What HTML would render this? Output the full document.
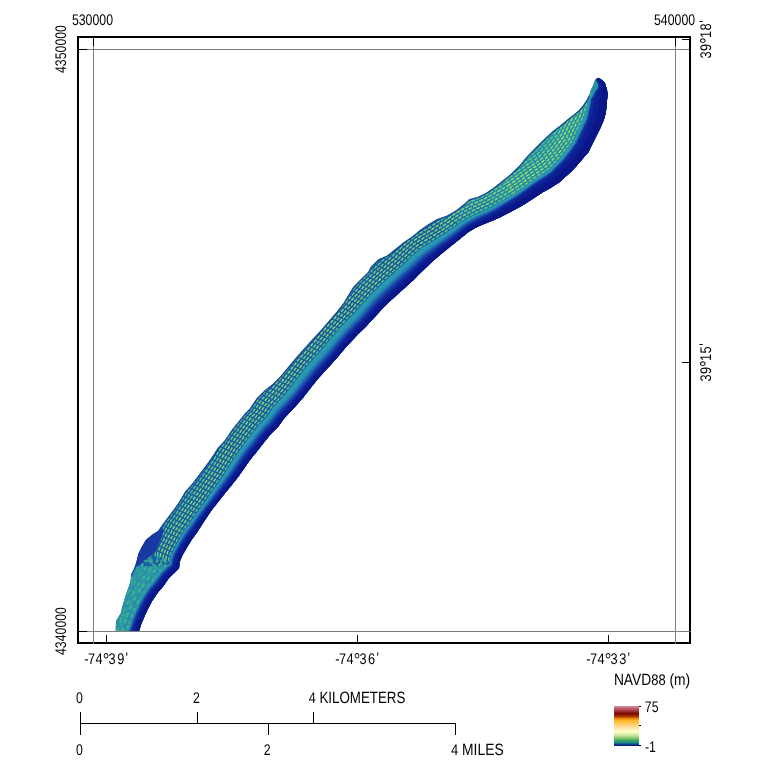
<!DOCTYPE html>
<html lang="en"><head><meta charset="utf-8"><title>Map</title>
<style>html,body{margin:0;padding:0;background:#fff;}svg{display:block;}</style></head>
<body>
<svg width="768" height="768" viewBox="0 0 768 768">
<rect width="768" height="768" fill="#fff"/>
<defs><clipPath id="mapclip"><rect x="79" y="38" width="610" height="593.5"/></clipPath>
<clipPath id="isl"><polygon points="115.6,646.0 115.7,631.0 116.0,621.0 120.7,613.3 123.2,603.3 126.0,594.2 128.2,588.3 130.5,581.0 131.1,574.4 134.3,568.2 136.3,561.9 138.4,553.6 141.5,547.3 145.7,540.0 152.0,534.8 158.2,530.7 162.4,524.4 165.8,520.0 173.3,510.0 179.2,501.7 185.0,491.7 192.5,483.3 200.0,473.3 207.5,463.3 213.3,455.0 217.5,448.3 225.0,440.0 231.7,430.0 238.3,421.7 245.0,413.3 250.0,408.3 256.7,398.3 265.0,390.0 272.5,384.2 280.0,376.7 288.3,366.7 296.7,356.7 305.0,347.5 313.3,338.3 321.7,329.2 330.0,319.5 336.7,311.7 343.3,303.3 348.3,295.0 353.3,286.7 360.0,280.0 368.3,271.7 370.8,266.7 378.3,259.2 386.7,255.8 395.0,249.2 403.3,242.5 411.7,236.7 420.0,230.0 428.3,224.2 436.7,219.2 446.7,215.8 456.7,210.0 465.0,203.3 469.2,199.2 478.3,196.7 486.7,192.5 495.0,186.7 503.3,180.0 511.7,173.3 520.0,165.0 526.7,156.7 533.3,150.0 540.0,143.3 546.7,136.7 553.3,130.8 560.0,125.8 566.7,120.0 573.3,115.0 579.2,110.0 583.3,105.0 586.7,100.0 589.2,95.0 590.8,90.0 593.0,85.6 594.0,82.5 595.0,80.0 597.5,77.8 597.5,77.8 600.5,79.0 603.0,80.9 604.9,83.1 606.1,86.9 607.1,90.6 607.6,95.0 607.2,98.1 606.8,104.0 606.1,110.3 604.9,116.5 603.0,122.1 600.5,127.8 598.0,132.8 595.5,137.8 593.0,142.8 590.5,147.8 588.6,152.0 585.0,155.9 580.6,161.3 576.3,166.3 571.9,170.9 567.5,175.0 563.1,178.8 559.6,182.2 551.3,187.5 543.3,192.0 533.3,198.5 523.3,205.0 513.3,210.5 504.0,215.2 499.8,217.4 493.5,220.2 487.3,222.7 481.0,225.2 474.8,228.3 468.5,232.1 462.3,237.1 455.8,242.3 449.5,247.3 443.3,252.3 437.0,257.6 430.8,262.9 424.5,268.9 418.3,275.1 413.5,280.0 402.4,290.0 391.3,300.0 383.0,308.0 375.0,316.7 365.8,326.7 358.0,334.2 353.3,339.2 345.0,348.3 336.7,358.3 327.5,368.3 318.4,378.3 310.4,388.3 302.6,398.3 293.8,408.3 284.2,418.3 278.3,426.5 270.0,435.0 263.3,443.3 256.7,451.7 250.0,460.0 244.2,468.3 238.3,476.7 231.7,485.0 225.0,493.3 218.3,501.7 211.7,510.0 205.0,520.0 202.0,524.4 196.8,532.8 191.5,540.0 186.3,548.4 182.2,555.7 179.6,561.9 179.0,568.2 173.8,573.4 168.6,578.6 163.4,585.9 157.3,593.3 152.3,600.8 148.2,608.3 144.8,615.8 141.5,623.3 139.0,631.0 134.2,646.0"/></clipPath>
<linearGradient id="cb" x1="0" y1="0" x2="0" y2="1"><stop offset="0" stop-color="#d88ea8"/><stop offset="0.087" stop-color="#b64e5c"/><stop offset="0.19" stop-color="#7c0802"/><stop offset="0.26" stop-color="#a63600"/><stop offset="0.315" stop-color="#e68a10"/><stop offset="0.36" stop-color="#ffb61e"/><stop offset="0.45" stop-color="#ffc960"/><stop offset="0.53" stop-color="#ffe0a0"/><stop offset="0.64" stop-color="#ffffc8"/><stop offset="0.72" stop-color="#d8eca8"/><stop offset="0.795" stop-color="#8ecb76"/><stop offset="0.86" stop-color="#3fa860"/><stop offset="0.913" stop-color="#1e8e82"/><stop offset="0.96" stop-color="#0e4692"/><stop offset="1" stop-color="#020a6e"/></linearGradient><linearGradient id="ne" x1="0" y1="0" x2="0" y2="1"><stop offset="0" stop-color="#2792a2" stop-opacity="1"/><stop offset="0.7" stop-color="#2792a2" stop-opacity="0.9"/><stop offset="1" stop-color="#2792a2" stop-opacity="0"/></linearGradient></defs>
<g clip-path="url(#mapclip)"><g clip-path="url(#isl)">
<polygon points="115.6,646.0 115.7,631.0 116.0,621.0 120.7,613.3 123.2,603.3 126.0,594.2 128.2,588.3 130.5,581.0 131.1,574.4 134.3,568.2 136.3,561.9 138.4,553.6 141.5,547.3 145.7,540.0 152.0,534.8 158.2,530.7 162.4,524.4 165.8,520.0 173.3,510.0 179.2,501.7 185.0,491.7 192.5,483.3 200.0,473.3 207.5,463.3 213.3,455.0 217.5,448.3 225.0,440.0 231.7,430.0 238.3,421.7 245.0,413.3 250.0,408.3 256.7,398.3 265.0,390.0 272.5,384.2 280.0,376.7 288.3,366.7 296.7,356.7 305.0,347.5 313.3,338.3 321.7,329.2 330.0,319.5 336.7,311.7 343.3,303.3 348.3,295.0 353.3,286.7 360.0,280.0 368.3,271.7 370.8,266.7 378.3,259.2 386.7,255.8 395.0,249.2 403.3,242.5 411.7,236.7 420.0,230.0 428.3,224.2 436.7,219.2 446.7,215.8 456.7,210.0 465.0,203.3 469.2,199.2 478.3,196.7 486.7,192.5 495.0,186.7 503.3,180.0 511.7,173.3 520.0,165.0 526.7,156.7 533.3,150.0 540.0,143.3 546.7,136.7 553.3,130.8 560.0,125.8 566.7,120.0 573.3,115.0 579.2,110.0 583.3,105.0 586.7,100.0 589.2,95.0 590.8,90.0 593.0,85.6 594.0,82.5 595.0,80.0 597.5,77.8 597.5,77.8 600.5,79.0 603.0,80.9 604.9,83.1 606.1,86.9 607.1,90.6 607.6,95.0 607.2,98.1 606.8,104.0 606.1,110.3 604.9,116.5 603.0,122.1 600.5,127.8 598.0,132.8 595.5,137.8 593.0,142.8 590.5,147.8 588.6,152.0 585.0,155.9 580.6,161.3 576.3,166.3 571.9,170.9 567.5,175.0 563.1,178.8 559.6,182.2 551.3,187.5 543.3,192.0 533.3,198.5 523.3,205.0 513.3,210.5 504.0,215.2 499.8,217.4 493.5,220.2 487.3,222.7 481.0,225.2 474.8,228.3 468.5,232.1 462.3,237.1 455.8,242.3 449.5,247.3 443.3,252.3 437.0,257.6 430.8,262.9 424.5,268.9 418.3,275.1 413.5,280.0 402.4,290.0 391.3,300.0 383.0,308.0 375.0,316.7 365.8,326.7 358.0,334.2 353.3,339.2 345.0,348.3 336.7,358.3 327.5,368.3 318.4,378.3 310.4,388.3 302.6,398.3 293.8,408.3 284.2,418.3 278.3,426.5 270.0,435.0 263.3,443.3 256.7,451.7 250.0,460.0 244.2,468.3 238.3,476.7 231.7,485.0 225.0,493.3 218.3,501.7 211.7,510.0 205.0,520.0 202.0,524.4 196.8,532.8 191.5,540.0 186.3,548.4 182.2,555.7 179.6,561.9 179.0,568.2 173.8,573.4 168.6,578.6 163.4,585.9 157.3,593.3 152.3,600.8 148.2,608.3 144.8,615.8 141.5,623.3 139.0,631.0 134.2,646.0" fill="#1b5e9e"/>
<rect x="440" y="70" width="180" height="170" fill="url(#ne)"/>
<rect x="100" y="566" width="100" height="70" fill="#2c93a6"/>
<polyline points="123.0,642.4 123.7,640.1 124.4,637.8 125.2,635.5 125.9,633.2 126.6,630.9 127.4,628.6 128.1,626.2 128.9,623.8 129.7,621.3 130.5,618.9 131.5,616.5 132.5,614.2 133.6,611.8 134.7,609.3 135.7,607.0 136.7,604.7 137.8,602.4 139.1,600.0 140.3,597.7 141.6,595.4 143.1,593.0 144.6,590.8 146.1,588.6 147.6,586.4 149.2,584.4 150.8,582.6 152.3,580.7 154.0,578.8 155.5,576.7 157.0,574.7 158.5,572.6 160.0,570.6 161.9,568.7 163.7,566.9 165.0,565.8 166.3,564.8 167.6,563.8 168.9,562.6 168.9,560.8" fill="none" stroke="#38b094" stroke-width="2.2" stroke-dasharray="2.6 3.9 3.2 4.2 4.3 1.8 1.6 5.3"/>
<polyline points="120.9,641.7 121.6,639.4 122.3,637.2 123.1,634.9 123.8,632.6 124.5,630.3 125.3,628.0 126.1,625.5 126.8,623.0 127.6,620.6 128.5,618.1 129.5,615.7 130.5,613.3 131.6,610.9 132.7,608.4 133.7,606.1 134.7,603.8 135.9,601.4 137.2,599.0 138.4,596.6 139.7,594.2 141.2,591.9 142.7,589.6 144.3,587.3 145.8,585.1 147.4,583.1 149.0,581.2 150.6,579.4 152.2,577.4 153.7,575.3 155.3,573.3 156.8,571.2 158.4,569.2 160.3,567.3 162.1,565.5 163.3,564.5 164.5,563.5 165.7,562.7 167.0,561.6 166.9,559.8" fill="none" stroke="#2a88a8" stroke-width="2.2" stroke-dasharray="2.7 2.6 6.0 3.6 5.3 3.6 4.4 2.2"/>
<polyline points="118.8,641.1 119.5,638.8 120.2,636.5 121.0,634.2 121.7,631.9 122.4,629.6 123.2,627.3 124.0,624.8 124.8,622.3 125.6,619.8 126.4,617.3 127.4,614.9 128.5,612.5 129.5,610.0 130.7,607.5 131.7,605.2 132.8,602.8 133.9,600.4 135.2,597.9 136.5,595.5 137.8,593.1 139.4,590.7 140.9,588.4 142.5,586.1 144.1,583.8 145.7,581.8 147.3,579.9 148.8,578.0 150.5,576.1 152.0,574.0 153.6,571.9 155.1,569.8 156.7,567.8 158.6,565.8 160.5,564.0 161.6,563.1 162.7,562.3 163.8,561.6 165.0,560.5 165.0,558.9" fill="none" stroke="#3cb690" stroke-width="2.2" stroke-dasharray="4.4 5.4 3.9 4.8 4.5 1.8 4.9 4.2"/>
<polyline points="116.7,640.4 117.4,638.1 118.1,635.8 118.9,633.5 119.6,631.2 120.3,628.9 121.1,626.6 121.9,624.1 122.7,621.6 123.5,619.1 124.3,616.5 125.4,614.1 126.4,611.6 127.5,609.2 128.7,606.6 129.7,604.2 130.8,601.8 132.0,599.4 133.3,596.9 134.6,594.5 135.9,592.0 137.5,589.5 139.1,587.1 140.7,584.8 142.3,582.5 143.9,580.5 145.5,578.6 147.1,576.7 148.7,574.7 150.3,572.6 151.8,570.5 153.4,568.4 155.0,566.3 157.0,564.4 158.9,562.5 159.9,561.7 160.9,561.0 161.9,560.4 163.1,559.5 163.0,558.0" fill="none" stroke="#2f9ca2" stroke-width="2.2" stroke-dasharray="2.9 1.6 5.4 3.6 4.7 5.5 4.7 5.6"/>
<polyline points="114.6,639.7 115.3,637.4 116.0,635.1 116.8,632.9 117.5,630.6 118.3,628.3 119.0,625.9 119.8,623.4 120.6,620.8 121.4,618.3 122.3,615.7 123.4,613.3 124.4,610.8 125.5,608.3 126.7,605.7 127.7,603.3 128.8,600.9 130.0,598.4 131.3,595.9 132.7,593.4 134.0,590.9 135.6,588.3 137.3,585.9 138.9,583.5 140.5,581.2 142.2,579.2 143.7,577.3 145.3,575.4 147.0,573.4 148.6,571.2 150.1,569.1 151.7,567.0 153.3,564.9 155.3,562.9 157.2,561.0 158.2,560.3 159.1,559.8 160.0,559.3 161.1,558.5 161.0,557.0" fill="none" stroke="#3ab292" stroke-width="2.2" stroke-dasharray="3.3 5.1 3.5 5.7 5.5 1.9 2.1 2.5"/>
<polyline points="112.5,639.1 113.2,636.8 113.9,634.5 114.7,632.2 115.4,629.9 116.2,627.6 116.9,625.3 117.7,622.7 118.5,620.1 119.4,617.5 120.2,615.0 121.3,612.4 122.4,609.9 123.5,607.4 124.7,604.7 125.7,602.3 126.8,599.9 128.0,597.4 129.4,594.8 130.8,592.3 132.1,589.8 133.8,587.2 135.4,584.7 137.1,582.3 138.7,579.9 140.4,577.9 142.0,575.9 143.6,574.0 145.2,572.0 146.8,569.9 148.4,567.7 150.0,565.6 151.7,563.5 153.7,561.4 155.6,559.5 156.4,558.9 157.2,558.5 158.1,558.2 159.2,557.4 159.0,556.1" fill="none" stroke="#2b8ca8" stroke-width="2.2" stroke-dasharray="5.8 3.5 4.3 2.9 3.8 3.2 3.1 4.1"/>
<polyline points="110.4,638.4 111.1,636.1 111.9,633.8 112.6,631.5 113.3,629.2 114.1,626.9 114.8,624.6 115.6,622.0 116.5,619.4 117.3,616.8 118.2,614.2 119.3,611.6 120.4,609.1 121.5,606.5 122.7,603.8 123.8,601.4 124.9,598.9 126.1,596.4 127.5,593.8 128.8,591.2 130.2,588.7 131.9,586.0 133.6,583.5 135.3,581.0 137.0,578.5 138.6,576.5 140.2,574.6 141.8,572.7 143.5,570.7 145.1,568.5 146.7,566.3 148.3,564.2 150.0,562.0 152.0,560.0 154.0,558.0 154.7,557.5 155.4,557.2 156.2,557.1 157.2,556.4 157.0,555.2" fill="none" stroke="#36ac96" stroke-width="2.2" stroke-dasharray="4.1 5.6 4.6 5.7 5.4 6.0 4.5 2.2"/>
<polyline points="108.3,637.7 109.0,635.4 109.8,633.1 110.5,630.8 111.2,628.5 112.0,626.2 112.7,623.9 113.6,621.3 114.4,618.7 115.2,616.0 116.1,613.4 117.2,610.8 118.3,608.3 119.4,605.6 120.7,602.9 121.8,600.4 122.9,598.0 124.1,595.4 125.5,592.7 126.9,590.1 128.4,587.5 130.1,584.8 131.8,582.3 133.5,579.8 135.2,577.2 136.9,575.2 138.5,573.3 140.1,571.4 141.8,569.4 143.4,567.1 145.0,564.9 146.6,562.7 148.3,560.6 150.4,558.5 152.4,556.6 153.0,556.2 153.6,556.0 154.4,555.9 155.3,555.4 155.0,554.2" fill="none" stroke="#2e98a4" stroke-width="2.2" stroke-dasharray="5.4 5.8 5.6 4.1 4.7 2.5 5.2 4.1"/>
<polyline points="106.2,637.0 106.9,634.8 107.7,632.5 108.4,630.2 109.1,627.9 109.9,625.6 110.6,623.2 111.5,620.6 112.3,617.9 113.2,615.3 114.1,612.6 115.2,610.0 116.3,607.4 117.4,604.8 118.7,602.0 119.8,599.5 120.9,597.0 122.2,594.4 123.6,591.7 125.0,589.1 126.5,586.4 128.2,583.6 129.9,581.1 131.7,578.5 133.4,575.9 135.1,573.9 136.7,572.0 138.3,570.0 140.0,568.0 141.7,565.8 143.3,563.6 145.0,561.3 146.7,559.2 148.8,557.0 150.7,555.1 151.3,554.8 151.8,554.7 152.5,554.8 153.4,554.3 153.0,553.3" fill="none" stroke="#38b094" stroke-width="2.2" stroke-dasharray="2.8 1.8 5.3 6.0 1.9 5.1 3.3 2.2"/>
<polyline points="168.6,560.6 168.7,558.6 169.2,556.7 170.0,554.8 171.0,551.9 172.3,549.1 173.6,546.6 174.8,544.2 176.0,541.9 177.3,539.6 178.6,537.3 179.8,535.0 181.1,532.8 182.4,530.8 183.8,528.8 185.2,526.9 186.6,524.9 187.9,523.0 189.2,521.0 190.5,519.1 191.8,517.1 193.2,515.1 194.7,513.1 196.1,511.1 197.6,509.0 199.0,507.0 200.5,504.9 201.9,502.8 203.4,500.8 204.9,498.7 206.4,496.7 207.8,494.6 209.2,492.7 210.7,490.7 212.1,488.7 213.5,486.8 214.9,484.8 216.3,482.9 217.7,480.9 219.1,478.9 220.4,476.9 221.7,474.9 223.0,473.0 224.3,471.1 225.5,469.2 226.8,467.3 227.9,465.3 229.1,463.3 230.3,461.4 231.6,459.5 233.0,457.4 234.4,455.3 235.7,453.1 237.1,451.0 238.6,449.0 240.2,447.0 241.7,445.0 243.2,443.0 244.6,441.0 246.1,439.1 247.5,437.2 248.9,435.2 250.4,433.3 251.9,431.3 253.5,429.2 255.1,427.1 256.7,425.0 258.4,423.1 260.0,421.3 261.6,419.6 263.2,417.9 264.7,416.4 266.0,414.7 267.4,412.7 268.7,410.7 270.1,408.7 271.6,406.7 273.4,404.7 275.2,402.8 277.0,400.8 278.7,399.0 280.3,397.3 281.8,395.6 283.3,393.8 284.7,392.1 286.1,390.5 287.5,388.8 289.0,387.0 290.4,385.2 291.7,383.4 293.1,381.5 294.5,379.7 295.9,377.7 297.4,375.8 298.9,373.8 300.5,371.8 302.1,369.7 303.6,367.7 305.2,365.7 306.9,363.8 308.6,361.9 310.3,360.0 312.0,358.1 313.6,356.3 315.2,354.5 316.8,352.7 318.3,351.0 319.9,349.3 321.4,347.6 322.9,345.9 324.3,344.1 325.8,342.3 327.3,340.4 328.8,338.5 330.4,336.6 332.0,334.7 333.7,332.8 335.4,330.9 337.1,329.0 338.8,327.0 340.5,325.1 342.2,323.3 344.0,321.4 345.7,319.6 347.4,317.9 349.1,316.2 350.8,314.6 352.4,312.9 353.9,311.2 355.4,309.5 356.9,307.9 358.4,306.1 360.0,304.3 361.6,302.6 363.3,300.7 365.0,298.8 366.7,296.9 368.4,295.0 370.2,293.1 372.0,291.3 373.9,289.4 375.8,287.6 377.6,285.8 379.4,284.1 381.2,282.4 383.0,280.7 384.8,279.0 386.6,277.4 388.4,275.7 390.1,274.1 391.9,272.5 393.6,270.9 395.3,269.4 397.0,267.9 398.7,266.5 400.4,265.0 402.1,263.4 403.7,261.8 405.4,260.2 407.2,258.6 409.0,256.9 410.8,255.1 412.7,253.4 414.7,251.7 416.6,249.9 418.6,248.2 420.7,246.8 422.9,245.4 425.1,244.0 427.3,242.7 429.4,241.4 431.6,240.1 433.7,238.8 435.9,237.6 437.9,236.2 440.0,234.9 442.0,233.5 444.1,232.2 446.1,230.9 448.1,229.5 450.1,228.2 452.1,226.8 454.2,225.3 456.3,223.7 458.4,222.2 460.7,220.6 463.1,219.2 465.6,217.8 468.1,216.4 470.7,215.1 473.0,213.8 475.4,212.5 477.9,211.5 480.2,210.5 482.5,209.5 484.7,208.5 486.8,207.6 488.8,206.6 490.8,205.6 492.8,204.7 494.8,203.6 496.8,202.4 498.8,201.3 500.7,200.2 502.7,199.1 504.8,197.9 506.8,196.7 508.8,195.6 510.7,194.4 512.5,193.3 514.4,192.1" fill="none" stroke="#58c48c" stroke-width="1.4" stroke-dasharray="3.6 1.5"/>
<polyline points="512.5,193.3 514.4,192.1 516.3,190.9 518.1,189.5 520.0,188.2 521.8,186.9 523.7,185.5 525.6,184.1 527.7,182.7 529.7,181.2 531.8,179.7 533.9,178.2 535.9,176.9 538.0,175.6 540.0,174.3 542.1,173.1 543.7,171.9 545.2,170.8 546.8,169.7 548.4,168.5 549.8,167.1 551.1,165.5 552.5,164.1 553.8,162.7 555.4,161.2 557.0,159.5 558.4,158.0 559.7,156.4 561.0,154.8 562.4,153.2 563.6,151.5 565.0,149.8 566.4,147.9 567.7,146.1 568.6,144.7 569.7,143.3 570.9,142.0 571.9,140.5 572.5,138.7 573.2,137.0 573.9,135.5 574.7,133.8 575.8,131.5 576.9,129.3 577.9,127.2 578.9,125.1 579.9,123.1 580.9,121.1 581.8,119.3 582.5,117.4 583.1,115.8 583.7,114.2 584.1,112.6 584.6,111.1 584.8,109.5 585.3,107.9 585.8,106.3 586.2,104.5 586.6,102.3 586.9,100.7 587.2,99.0 588.4,97.5 589.7,96.0 590.4,94.4 591.3,93.4 592.0,92.6" fill="none" stroke="#6ccc86" stroke-width="1.4" stroke-dasharray="3.6 1.5"/>
<polyline points="165.9,559.3 165.9,557.5 166.4,555.7 167.1,553.8 168.2,550.8 169.6,547.8 170.9,545.2 172.1,542.8 173.4,540.3 174.7,538.0 176.0,535.7 177.3,533.4 178.6,531.1 179.9,529.2 181.3,527.2 182.7,525.2 184.1,523.3 185.4,521.3 186.7,519.4 188.0,517.4 189.3,515.5 190.7,513.5 192.2,511.5 193.6,509.4 195.1,507.3 196.6,505.2 198.0,503.2 199.5,501.1 201.0,499.0 202.5,496.9 204.0,494.8 205.5,492.8 206.9,490.8 208.3,488.8 209.7,486.9 211.1,484.9 212.6,482.9 214.0,481.0 215.4,479.0 216.7,477.0 218.1,475.0 219.4,473.1 220.6,471.2 221.9,469.3 223.1,467.4 224.3,465.5 225.5,463.5 226.6,461.6 227.9,459.7 229.1,457.8 230.5,455.6 231.9,453.5 233.3,451.4 234.7,449.2 236.3,447.2 237.8,445.1 239.3,443.1 240.8,441.1 242.3,439.2 243.7,437.2 245.1,435.3 246.6,433.4 248.0,431.4 249.5,429.4 251.2,427.3 252.8,425.2 254.4,423.1 256.1,421.1 257.8,419.3 259.4,417.6 260.9,416.0 262.4,414.4 263.7,412.7 265.1,410.8 266.4,408.8 267.7,406.8 269.3,404.8 271.2,402.7 273.0,400.8 274.8,398.8 276.5,396.9 278.1,395.3 279.6,393.5 281.1,391.8 282.4,390.1 283.8,388.5 285.2,386.8 286.7,385.1 288.0,383.3 289.4,381.5 290.8,379.7 292.1,377.8 293.6,375.9 295.1,373.9 296.6,372.0 298.2,369.9 299.8,367.8 301.3,365.8 303.0,363.8 304.7,361.9 306.4,359.9 308.1,358.0 309.8,356.1 311.4,354.3 313.0,352.5 314.6,350.7 316.1,349.0 317.6,347.3 319.1,345.6 320.6,343.9 322.0,342.1 323.5,340.3 325.0,338.4 326.5,336.6 328.1,334.6 329.8,332.7 331.5,330.8 333.2,328.8 334.9,326.9 336.6,325.0 338.3,323.1 340.1,321.2 341.8,319.3 343.6,317.5 345.3,315.8 347.0,314.1 348.7,312.4 350.3,310.8 351.8,309.1 353.2,307.5 354.7,305.8 356.2,304.1 357.8,302.3 359.4,300.5 361.1,298.6 362.8,296.7 364.5,294.8 366.2,292.9 368.0,291.0 369.9,289.2 371.8,287.3 373.7,285.4 375.5,283.6 377.3,281.9 379.2,280.2 381.0,278.5 382.8,276.8 384.6,275.2 386.4,273.5 388.1,271.9 389.9,270.2 391.6,268.7 393.3,267.2 395.0,265.8 396.7,264.3 398.4,262.8 400.0,261.3 401.6,259.7 403.3,258.1 405.1,256.5 406.9,254.7 408.7,253.0 410.7,251.2 412.6,249.5 414.6,247.7 416.6,246.0 418.7,244.5 420.9,243.1 423.2,241.8 425.4,240.4 427.5,239.1 429.7,237.8 431.8,236.5 434.0,235.2 436.1,233.9 438.1,232.5 440.2,231.2 442.2,229.8 444.2,228.5 446.2,227.2 448.2,225.9 450.2,224.5 452.3,222.9 454.5,221.3 456.7,219.7 459.0,218.1 461.5,216.7 464.0,215.3 466.7,213.8 469.3,212.4 471.7,211.1 474.2,209.8 476.7,208.7 479.0,207.7 481.3,206.7 483.6,205.7 485.6,204.8 487.6,203.9 489.6,202.9 491.5,201.9 493.5,200.9 495.4,199.7 497.4,198.6 499.3,197.5 501.4,196.4 503.4,195.2 505.4,194.1 507.4,192.9 509.2,191.8 511.0,190.7 512.9,189.5" fill="none" stroke="#84dc7a" stroke-width="1.4" stroke-dasharray="3.6 1.5"/>
<polyline points="511.0,190.7 512.9,189.5 514.7,188.3 516.6,187.0 518.4,185.7 520.2,184.4 522.1,183.0 524.0,181.6 526.0,180.1 528.1,178.6 530.2,177.2 532.3,175.7 534.4,174.3 536.4,173.1 538.5,171.8 540.5,170.5 542.1,169.3 543.5,168.3 545.0,167.2 546.6,166.2 548.0,164.7 549.2,163.2 550.5,161.8 551.8,160.5 553.3,159.0 554.9,157.3 556.3,155.8 557.6,154.3 558.9,152.8 560.2,151.2 561.4,149.6 562.7,147.8 564.1,145.9 565.4,144.1 566.3,142.8 567.3,141.5 568.4,140.3 569.4,138.8 569.9,137.1 570.6,135.6 571.2,134.1 572.0,132.5 573.1,130.2 574.2,128.0 575.2,125.8 576.2,123.8 577.2,121.8 578.1,119.8 579.0,118.0 579.8,116.2 580.3,114.7 580.8,113.2 581.2,111.7 581.7,110.3 581.9,108.8 582.4,107.4 582.8,105.8 583.2,104.1 583.6,102.0 583.9,100.4 584.2,98.9 585.4,97.6 586.7,96.2 587.5,94.7 588.3,93.9 589.1,93.5" fill="none" stroke="#9ae270" stroke-width="1.4" stroke-dasharray="3.6 1.5"/>
<polyline points="163.1,558.0 163.2,556.3 163.6,554.6 164.3,552.8 165.5,549.6 166.9,546.5 168.3,543.8 169.5,541.3 170.8,538.8 172.2,536.4 173.5,534.1 174.8,531.7 176.1,529.5 177.5,527.5 178.8,525.5 180.2,523.5 181.6,521.6 182.9,519.7 184.2,517.7 185.4,515.8 186.8,513.8 188.2,511.8 189.7,509.8 191.1,507.8 192.6,505.6 194.1,503.5 195.6,501.4 197.1,499.3 198.6,497.2 200.1,495.1 201.6,493.0 203.2,490.9 204.6,488.9 206.0,487.0 207.4,485.0 208.8,483.0 210.2,481.1 211.6,479.1 213.0,477.1 214.4,475.2 215.7,473.2 217.0,471.2 218.3,469.3 219.5,467.5 220.7,465.6 221.9,463.7 223.1,461.7 224.2,459.8 225.4,457.9 226.7,456.0 228.1,453.9 229.5,451.7 230.9,449.6 232.3,447.4 233.9,445.3 235.4,443.3 237.0,441.3 238.5,439.2 239.9,437.3 241.4,435.4 242.8,433.4 244.2,431.5 245.7,429.6 247.2,427.5 248.9,425.4 250.5,423.2 252.2,421.1 253.9,419.1 255.6,417.3 257.1,415.6 258.7,414.0 260.1,412.5 261.4,410.8 262.7,408.8 264.1,406.9 265.4,404.9 267.0,402.8 268.9,400.8 270.8,398.7 272.6,396.8 274.3,394.9 275.9,393.2 277.4,391.5 278.8,389.8 280.2,388.2 281.5,386.6 283.0,384.9 284.4,383.2 285.7,381.4 287.1,379.6 288.4,377.8 289.8,376.0 291.2,374.0 292.7,372.1 294.2,370.1 295.9,368.0 297.5,365.9 299.1,363.9 300.7,361.8 302.4,359.9 304.1,357.9 305.9,356.0 307.6,354.1 309.2,352.3 310.8,350.5 312.4,348.7 313.9,347.0 315.4,345.3 316.9,343.6 318.4,341.9 319.8,340.2 321.2,338.4 322.7,336.5 324.3,334.6 325.9,332.6 327.5,330.7 329.2,328.8 331.0,326.8 332.7,324.9 334.4,323.0 336.2,321.0 337.9,319.1 339.7,317.2 341.5,315.3 343.2,313.7 344.9,312.0 346.6,310.3 348.1,308.7 349.6,307.1 351.1,305.4 352.5,303.8 354.0,302.1 355.6,300.3 357.2,298.5 358.9,296.6 360.6,294.7 362.4,292.7 364.1,290.8 365.9,288.9 367.8,287.0 369.7,285.1 371.6,283.2 373.5,281.4 375.3,279.7 377.1,278.0 379.0,276.3 380.8,274.6 382.6,272.9 384.4,271.3 386.1,269.7 387.9,268.0 389.6,266.4 391.2,265.0 392.9,263.6 394.6,262.1 396.3,260.6 397.9,259.1 399.5,257.6 401.2,256.0 402.9,254.3 404.8,252.6 406.6,250.8 408.6,249.1 410.6,247.3 412.5,245.5 414.6,243.7 416.7,242.3 419.0,240.9 421.2,239.5 423.4,238.1 425.6,236.8 427.7,235.5 429.9,234.2 432.1,232.9 434.2,231.5 436.2,230.2 438.3,228.8 440.3,227.5 442.4,226.2 444.4,224.9 446.4,223.5 448.3,222.1 450.5,220.5 452.7,218.9 454.9,217.3 457.3,215.6 459.9,214.2 462.4,212.7 465.2,211.2 468.0,209.7 470.4,208.4 472.9,207.1 475.5,206.0 477.8,205.0 480.1,204.0 482.4,203.0 484.4,202.1 486.4,201.1 488.3,200.2 490.3,199.2 492.2,198.2 494.1,197.0 496.1,195.9 498.0,194.8 500.0,193.7 502.0,192.6 504.0,191.4 505.9,190.3 507.7,189.2 509.5,188.1 511.4,187.0" fill="none" stroke="#74d482" stroke-width="1.4" stroke-dasharray="3.6 1.5"/>
<polyline points="509.5,188.1 511.4,187.0 513.2,185.7 515.0,184.4 516.8,183.1 518.5,181.8 520.4,180.5 522.4,179.1 524.4,177.6 526.5,176.1 528.6,174.6 530.7,173.1 532.8,171.8 534.9,170.5 536.9,169.2 539.0,167.9 540.5,166.8 541.9,165.8 543.3,164.8 544.8,163.8 546.1,162.4 547.3,160.9 548.6,159.6 549.8,158.3 551.3,156.8 552.8,155.2 554.2,153.7 555.4,152.2 556.7,150.7 557.9,149.2 559.1,147.6 560.5,145.8 561.9,143.9 563.1,142.2 563.9,141.0 564.8,139.8 565.9,138.6 566.9,137.2 567.4,135.6 567.9,134.1 568.6,132.7 569.3,131.2 570.4,128.9 571.5,126.6 572.6,124.5 573.5,122.5 574.5,120.5 575.4,118.6 576.3,116.8 577.0,115.0 577.5,113.6 578.0,112.2 578.4,110.8 578.8,109.5 579.0,108.2 579.4,106.8 579.9,105.3 580.2,103.8 580.6,101.6 580.9,100.2 581.3,98.8 582.4,97.6 583.7,96.4 584.5,95.0 585.4,94.5 586.3,94.4" fill="none" stroke="#88dc78" stroke-width="1.4" stroke-dasharray="3.6 1.5"/>
<polyline points="160.4,556.8 160.4,555.2 160.8,553.5 161.5,551.8 162.7,548.5 164.2,545.2 165.6,542.3 166.9,539.8 168.2,537.3 169.6,534.9 171.0,532.5 172.3,530.1 173.6,527.8 175.0,525.8 176.3,523.8 177.7,521.9 179.1,519.9 180.4,518.0 181.7,516.1 182.9,514.2 184.2,512.2 185.7,510.2 187.2,508.1 188.6,506.1 190.2,503.9 191.7,501.8 193.2,499.7 194.7,497.5 196.2,495.4 197.7,493.3 199.3,491.1 200.8,489.0 202.2,487.1 203.6,485.1 205.0,483.1 206.5,481.1 207.9,479.2 209.3,477.2 210.7,475.3 212.0,473.3 213.4,471.3 214.7,469.3 215.9,467.5 217.1,465.6 218.3,463.8 219.5,461.9 220.6,460.0 221.8,458.1 223.0,456.2 224.2,454.3 225.6,452.2 227.1,450.0 228.5,447.8 229.9,445.6 231.5,443.5 233.0,441.5 234.6,439.4 236.2,437.4 237.6,435.4 239.0,433.5 240.4,431.6 241.9,429.6 243.3,427.7 244.9,425.6 246.5,423.5 248.2,421.3 249.9,419.1 251.7,417.0 253.4,415.3 254.9,413.6 256.4,412.0 257.8,410.5 259.1,408.9 260.4,406.9 261.8,405.0 263.1,403.0 264.7,400.9 266.6,398.8 268.5,396.7 270.4,394.7 272.1,392.8 273.7,391.2 275.2,389.5 276.6,387.8 277.9,386.2 279.3,384.6 280.7,383.0 282.1,381.3 283.4,379.5 284.7,377.7 286.1,375.9 287.4,374.1 288.9,372.2 290.4,370.2 291.9,368.2 293.5,366.1 295.2,364.0 296.8,361.9 298.4,359.9 300.1,357.9 301.9,355.9 303.6,354.0 305.3,352.1 306.9,350.2 308.6,348.4 310.2,346.6 311.6,345.0 313.1,343.3 314.6,341.6 316.1,340.0 317.5,338.2 319.0,336.4 320.5,334.5 322.0,332.7 323.6,330.7 325.3,328.7 327.0,326.8 328.7,324.8 330.5,322.9 332.2,320.9 334.0,319.0 335.8,317.0 337.5,315.1 339.4,313.2 341.1,311.6 342.7,309.9 344.4,308.2 346.0,306.6 347.4,305.0 348.9,303.4 350.3,301.7 351.8,300.0 353.4,298.3 355.0,296.5 356.7,294.6 358.4,292.6 360.2,290.7 361.9,288.7 363.8,286.8 365.7,284.9 367.6,283.0 369.6,281.0 371.4,279.2 373.3,277.5 375.1,275.8 377.0,274.1 378.8,272.3 380.6,270.7 382.4,269.1 384.1,267.4 385.9,265.8 387.6,264.2 389.2,262.8 390.9,261.4 392.6,260.0 394.2,258.5 395.8,257.0 397.4,255.4 399.1,253.8 400.8,252.2 402.7,250.5 404.5,248.7 406.5,246.9 408.5,245.1 410.5,243.3 412.6,241.5 414.7,240.0 417.0,238.6 419.3,237.2 421.5,235.8 423.7,234.5 425.8,233.2 428.0,231.9 430.2,230.6 432.3,229.2 434.4,227.8 436.4,226.5 438.5,225.2 440.5,223.8 442.5,222.5 444.5,221.2 446.4,219.8 448.7,218.1 450.9,216.5 453.2,214.9 455.6,213.1 458.2,211.6 460.9,210.1 463.7,208.6 466.6,207.1 469.1,205.7 471.7,204.4 474.3,203.2 476.7,202.2 479.0,201.2 481.3,200.2 483.3,199.3 485.2,198.4 487.1,197.5 489.0,196.5 490.9,195.5 492.8,194.3 494.7,193.2 496.6,192.2 498.6,191.1 500.6,189.9 502.6,188.8 504.5,187.6 506.3,186.6 508.0,185.5 509.8,184.4" fill="none" stroke="#88de78" stroke-width="1.4" stroke-dasharray="3.6 1.5"/>
<polyline points="508.0,185.5 509.8,184.4 511.6,183.2 513.4,181.9 515.2,180.6 516.9,179.3 518.8,178.0 520.7,176.6 522.8,175.1 524.9,173.6 527.1,172.1 529.2,170.5 531.2,169.2 533.3,167.9 535.4,166.6 537.4,165.3 538.9,164.3 540.2,163.3 541.5,162.4 542.9,161.4 544.2,160.0 545.4,158.6 546.6,157.3 547.7,156.1 549.2,154.6 550.8,153.0 552.1,151.5 553.3,150.1 554.5,148.6 555.7,147.1 556.9,145.6 558.2,143.9 559.6,142.0 560.8,140.3 561.6,139.1 562.4,138.0 563.4,136.9 564.3,135.6 564.8,134.0 565.3,132.6 565.9,131.4 566.6,129.8 567.7,127.5 568.8,125.3 569.9,123.1 570.8,121.1 571.8,119.2 572.7,117.3 573.5,115.6 574.2,113.8 574.7,112.5 575.2,111.2 575.5,110.0 575.9,108.7 576.1,107.5 576.5,106.2 576.9,104.9 577.2,103.4 577.7,101.3 577.9,99.9 578.3,98.6 579.4,97.6 580.7,96.5 581.5,95.3 582.4,95.1 583.4,95.3" fill="none" stroke="#a2e66e" stroke-width="1.4" stroke-dasharray="3.6 1.5"/>
<polyline points="157.7,555.5 157.6,554.0 158.0,552.4 158.6,550.8 159.9,547.3 161.5,543.9 163.0,540.9 164.3,538.4 165.6,535.8 167.0,533.3 168.4,530.9 169.8,528.4 171.1,526.1 172.5,524.1 173.8,522.1 175.2,520.2 176.7,518.2 177.9,516.3 179.2,514.4 180.4,512.5 181.7,510.6 183.2,508.5 184.7,506.5 186.1,504.4 187.7,502.2 189.2,500.1 190.7,497.9 192.3,495.8 193.8,493.6 195.3,491.5 196.9,489.3 198.5,487.1 199.9,485.2 201.3,483.2 202.7,481.2 204.1,479.3 205.5,477.3 206.9,475.3 208.3,473.4 209.7,471.4 211.0,469.4 212.3,467.5 213.5,465.6 214.7,463.8 215.9,462.0 217.1,460.1 218.2,458.2 219.3,456.3 220.5,454.5 221.8,452.6 223.2,450.4 224.6,448.2 226.1,446.0 227.5,443.8 229.1,441.7 230.7,439.6 232.2,437.6 233.8,435.5 235.3,433.6 236.7,431.6 238.1,429.7 239.5,427.8 241.0,425.8 242.5,423.7 244.2,421.5 246.0,419.3 247.7,417.1 249.4,415.0 251.1,413.2 252.6,411.6 254.1,410.0 255.5,408.6 256.8,407.0 258.1,405.0 259.5,403.0 260.8,401.1 262.4,399.0 264.4,396.8 266.3,394.7 268.2,392.7 269.9,390.8 271.5,389.2 272.9,387.5 274.4,385.7 275.7,384.2 277.0,382.6 278.4,381.0 279.8,379.4 281.1,377.6 282.4,375.8 283.7,374.0 285.1,372.3 286.5,370.3 288.0,368.4 289.6,366.3 291.2,364.2 292.8,362.1 294.5,360.0 296.1,357.9 297.9,355.9 299.7,354.0 301.4,352.0 303.1,350.0 304.7,348.2 306.3,346.4 307.9,344.6 309.4,343.0 310.9,341.3 312.4,339.6 313.8,338.0 315.2,336.3 316.7,334.4 318.2,332.6 319.7,330.7 321.3,328.7 323.0,326.7 324.7,324.8 326.5,322.8 328.3,320.8 330.0,318.9 331.8,316.9 333.6,314.9 335.4,313.0 337.2,311.1 338.9,309.4 340.6,307.8 342.3,306.1 343.8,304.5 345.3,302.9 346.7,301.3 348.1,299.7 349.6,298.0 351.2,296.2 352.8,294.4 354.5,292.5 356.3,290.6 358.0,288.6 359.8,286.6 361.6,284.7 363.6,282.8 365.5,280.8 367.5,278.9 369.4,277.0 371.2,275.3 373.1,273.6 374.9,271.8 376.8,270.1 378.6,268.5 380.3,266.8 382.1,265.2 383.9,263.6 385.6,262.0 387.2,260.6 388.8,259.2 390.5,257.8 392.1,256.3 393.7,254.8 395.3,253.3 397.0,251.7 398.7,250.1 400.6,248.3 402.4,246.5 404.5,244.7 406.5,242.9 408.5,241.1 410.5,239.3 412.8,237.8 415.0,236.4 417.3,234.9 419.6,233.5 421.8,232.2 423.9,230.9 426.1,229.5 428.3,228.3 430.4,226.9 432.5,225.5 434.5,224.1 436.6,222.8 438.6,221.5 440.6,220.2 442.6,218.8 444.5,217.4 446.8,215.8 449.1,214.1 451.4,212.4 453.9,210.7 456.6,209.1 459.3,207.6 462.3,205.9 465.2,204.4 467.8,203.0 470.4,201.6 473.1,200.5 475.5,199.4 477.8,198.4 480.1,197.4 482.1,196.5 483.9,195.7 485.8,194.7 487.7,193.8 489.6,192.8 491.5,191.7 493.4,190.6 495.2,189.5 497.2,188.4 499.2,187.3 501.2,186.1 503.1,185.0 504.8,183.9 506.5,182.9 508.3,181.8" fill="none" stroke="#6ccf84" stroke-width="1.4" stroke-dasharray="3.6 1.5"/>
<polyline points="506.5,182.9 508.3,181.8 510.1,180.6 511.8,179.3 513.6,178.1 515.3,176.8 517.2,175.5 519.1,174.0 521.2,172.6 523.3,171.0 525.5,169.5 527.6,168.0 529.7,166.6 531.8,165.4 533.8,164.1 535.9,162.8 537.3,161.7 538.5,160.9 539.8,159.9 541.1,159.0 542.4,157.7 543.5,156.3 544.6,155.0 545.7,153.9 547.2,152.5 548.7,150.8 550.0,149.4 551.2,148.0 552.3,146.6 553.5,145.1 554.6,143.6 555.9,141.9 557.3,140.0 558.5,138.3 559.2,137.3 560.0,136.2 561.0,135.2 561.8,133.9 562.2,132.5 562.7,131.1 563.2,130.0 563.9,128.5 565.0,126.2 566.1,124.0 567.2,121.8 568.1,119.8 569.1,117.8 570.0,116.0 570.8,114.4 571.5,112.6 572.0,111.4 572.4,110.2 572.6,109.1 573.0,108.0 573.1,106.8 573.5,105.7 573.9,104.4 574.2,103.0 574.7,100.9 574.9,99.7 575.3,98.5 576.4,97.6 577.7,96.7 578.5,95.6 579.5,95.6 580.5,96.2" fill="none" stroke="#84da7a" stroke-width="1.4" stroke-dasharray="3.6 1.5"/>
<polyline points="155.0,554.2 154.9,552.8 155.2,551.4 155.8,549.8 157.1,546.2 158.8,542.6 160.3,539.5 161.7,536.9 163.0,534.3 164.5,531.7 165.9,529.3 167.3,526.8 168.6,524.5 170.0,522.5 171.3,520.5 172.7,518.5 174.2,516.6 175.4,514.7 176.7,512.8 177.9,510.9 179.2,508.9 180.7,506.9 182.2,504.8 183.6,502.8 185.2,500.5 186.7,498.3 188.3,496.2 189.8,494.0 191.4,491.8 193.0,489.6 194.5,487.5 196.1,485.3 197.5,483.3 198.9,481.3 200.4,479.4 201.8,477.4 203.2,475.4 204.6,473.5 206.0,471.5 207.4,469.5 208.7,467.5 210.0,465.6 211.2,463.8 212.4,462.0 213.6,460.2 214.7,458.3 215.8,456.4 216.9,454.6 218.1,452.7 219.3,450.9 220.7,448.7 222.2,446.5 223.7,444.2 225.1,442.0 226.7,439.9 228.3,437.8 229.9,435.7 231.5,433.6 232.9,431.7 234.3,429.8 235.8,427.8 237.2,425.9 238.6,424.0 240.2,421.9 241.9,419.6 243.7,417.4 245.4,415.2 247.2,413.0 248.9,411.2 250.4,409.6 251.9,408.1 253.3,406.6 254.5,405.1 255.8,403.1 257.2,401.1 258.5,399.2 260.1,397.0 262.1,394.8 264.1,392.7 266.0,390.7 267.7,388.8 269.3,387.1 270.7,385.4 272.2,383.7 273.4,382.2 274.7,380.7 276.1,379.1 277.5,377.5 278.7,375.7 280.1,374.0 281.4,372.2 282.7,370.4 284.2,368.4 285.7,366.5 287.2,364.5 288.9,362.3 290.5,360.2 292.2,358.0 293.9,356.0 295.6,354.0 297.4,352.0 299.2,349.9 300.9,348.0 302.5,346.2 304.1,344.4 305.7,342.6 307.2,340.9 308.7,339.3 310.1,337.7 311.6,336.0 313.0,334.3 314.4,332.5 315.9,330.6 317.4,328.8 319.1,326.7 320.8,324.8 322.5,322.8 324.3,320.8 326.0,318.8 327.8,316.8 329.6,314.8 331.4,312.8 333.3,310.9 335.1,309.0 336.8,307.3 338.5,305.7 340.1,304.0 341.7,302.4 343.1,300.8 344.5,299.2 345.9,297.6 347.4,296.0 349.0,294.2 350.6,292.4 352.3,290.5 354.1,288.5 355.9,286.5 357.6,284.5 359.5,282.6 361.5,280.6 363.5,278.7 365.5,276.7 367.3,274.8 369.2,273.1 371.1,271.4 372.9,269.6 374.8,267.9 376.6,266.2 378.3,264.6 380.1,263.0 381.9,261.3 383.5,259.8 385.1,258.4 386.8,257.0 388.4,255.6 390.0,254.2 391.6,252.7 393.2,251.1 394.8,249.6 396.6,247.9 398.4,246.2 400.4,244.4 402.4,242.5 404.4,240.7 406.5,238.9 408.5,237.1 410.8,235.5 413.1,234.1 415.4,232.6 417.7,231.2 419.8,229.9 422.0,228.6 424.2,227.2 426.4,225.9 428.5,224.5 430.6,223.2 432.7,221.8 434.7,220.5 436.7,219.1 438.8,217.8 440.7,216.5 442.7,215.1 445.0,213.4 447.3,211.7 449.7,210.0 452.2,208.2 455.0,206.6 457.8,205.0 460.8,203.3 463.9,201.7 466.5,200.3 469.2,198.9 471.9,197.7 474.3,196.7 476.7,195.7 479.0,194.6 480.9,193.8 482.7,192.9 484.6,192.0 486.5,191.1 488.3,190.1 490.1,189.0 492.0,187.9 493.9,186.8 495.8,185.8 497.8,184.6 499.8,183.5 501.6,182.4 503.3,181.3 505.0,180.3 506.8,179.2" fill="none" stroke="#5cc68a" stroke-width="1.4" stroke-dasharray="3.6 1.5"/>
<polyline points="505.0,180.3 506.8,179.2 508.5,178.0 510.2,176.8 512.0,175.5 513.7,174.3 515.5,172.9 517.5,171.5 519.6,170.0 521.7,168.5 523.9,167.0 526.1,165.4 528.1,164.1 530.2,162.8 532.3,161.5 534.3,160.2 535.7,159.2 536.8,158.4 538.0,157.5 539.3,156.6 540.5,155.3 541.5,154.0 542.7,152.8 543.7,151.7 545.1,150.3 546.6,148.6 547.9,147.3 549.0,145.9 550.1,144.5 551.3,143.1 552.4,141.6 553.7,139.9 555.1,138.0 556.2,136.4 556.8,135.4 557.6,134.5 558.5,133.5 559.3,132.3 559.7,130.9 560.1,129.7 560.6,128.6 561.2,127.2 562.4,124.9 563.5,122.6 564.5,120.5 565.5,118.5 566.4,116.5 567.3,114.7 568.1,113.1 568.7,111.4 569.2,110.3 569.5,109.2 569.8,108.2 570.1,107.2 570.2,106.2 570.6,105.1 571.0,103.9 571.3,102.6 571.7,100.6 571.9,99.5 572.3,98.4 573.4,97.6 574.7,96.8 575.5,95.9 576.6,96.2 577.7,97.1" fill="none" stroke="#74d280" stroke-width="1.4" stroke-dasharray="3.6 1.5"/>
<polyline points="152.3,552.9 152.1,551.7 152.3,550.3 153.0,548.8 154.4,545.0 156.1,541.3 157.7,538.1 159.0,535.4 160.4,532.8 161.9,530.1 163.4,527.7 164.8,525.2 166.2,522.8 167.5,520.8 168.8,518.8 170.2,516.9 171.7,514.9 172.9,513.0 174.2,511.1 175.4,509.3 176.7,507.3 178.2,505.2 179.7,503.2 181.1,501.1 182.7,498.8 184.3,496.6 185.8,494.4 187.4,492.2 189.0,490.0 190.6,487.8 192.2,485.6 193.8,483.4 195.2,481.4 196.6,479.5 198.0,477.5 199.4,475.5 200.9,473.5 202.3,471.6 203.7,469.6 205.0,467.6 206.4,465.7 207.6,463.7 208.8,461.9 210.0,460.1 211.2,458.4 212.3,456.5 213.4,454.7 214.5,452.8 215.6,451.0 216.9,449.1 218.3,447.0 219.8,444.7 221.3,442.5 222.7,440.2 224.3,438.1 225.9,436.0 227.5,433.9 229.1,431.8 230.6,429.8 232.0,427.9 233.4,426.0 234.8,424.0 236.3,422.1 237.9,420.0 239.6,417.7 241.4,415.4 243.2,413.2 245.0,411.0 246.7,409.2 248.1,407.7 249.6,406.1 251.0,404.7 252.2,403.1 253.5,401.2 254.9,399.2 256.2,397.3 257.8,395.1 259.9,392.9 261.8,390.7 263.8,388.6 265.6,386.7 267.1,385.1 268.5,383.4 269.9,381.7 271.2,380.2 272.4,378.7 273.8,377.2 275.2,375.5 276.4,373.8 277.7,372.1 279.0,370.3 280.3,368.5 281.8,366.6 283.3,364.6 284.9,362.6 286.6,360.4 288.2,358.2 289.9,356.1 291.6,354.0 293.4,352.0 295.2,350.0 297.0,347.9 298.7,346.0 300.3,344.2 301.9,342.4 303.5,340.6 305.0,338.9 306.4,337.3 307.9,335.7 309.3,334.0 310.7,332.4 312.1,330.5 313.6,328.7 315.1,326.8 316.8,324.8 318.5,322.8 320.3,320.8 322.0,318.8 323.8,316.8 325.6,314.8 327.5,312.8 329.3,310.8 331.1,308.8 333.0,306.9 334.7,305.2 336.3,303.6 338.0,301.9 339.5,300.4 340.9,298.8 342.3,297.2 343.7,295.6 345.2,294.0 346.8,292.2 348.4,290.4 350.1,288.4 351.9,286.4 353.7,284.4 355.5,282.4 357.3,280.5 359.3,278.5 361.4,276.5 363.4,274.5 365.3,272.6 367.2,270.9 369.0,269.1 370.9,267.4 372.8,265.7 374.6,264.0 376.3,262.4 378.1,260.7 379.9,259.1 381.5,257.6 383.1,256.2 384.7,254.8 386.4,253.4 388.0,252.0 389.5,250.5 391.1,249.0 392.7,247.5 394.5,245.8 396.3,244.1 398.3,242.2 400.3,240.4 402.4,238.5 404.4,236.7 406.5,234.8 408.8,233.3 411.1,231.8 413.4,230.4 415.7,228.9 417.9,227.6 420.1,226.2 422.3,224.9 424.5,223.6 426.6,222.2 428.7,220.8 430.8,219.5 432.8,218.1 434.9,216.8 436.9,215.5 438.9,214.2 440.8,212.8 443.2,211.0 445.5,209.3 447.9,207.6 450.5,205.7 453.4,204.1 456.2,202.5 459.4,200.7 462.5,199.0 465.2,197.6 467.9,196.2 470.7,195.0 473.1,193.9 475.5,192.9 477.8,191.9 479.7,191.0 481.5,190.2 483.3,189.3 485.2,188.4 487.0,187.4 488.8,186.3 490.7,185.2 492.5,184.2 494.4,183.1 496.4,182.0 498.4,180.8 500.2,179.7 501.9,178.7 503.5,177.7 505.2,176.6" fill="none" stroke="#4ab890" stroke-width="1.4" stroke-dasharray="3.6 1.5"/>
<polyline points="503.5,177.7 505.2,176.6 507.0,175.5 508.7,174.2 510.4,173.0 512.0,171.7 513.9,170.4 515.8,169.0 517.9,167.5 520.1,166.0 522.3,164.4 524.5,162.9 526.6,161.5 528.7,160.2 530.7,158.9 532.8,157.6 534.1,156.7 535.1,155.9 536.3,155.1 537.5,154.2 538.6,153.0 539.6,151.7 540.7,150.5 541.7,149.5 543.0,148.1 544.6,146.5 545.8,145.1 546.9,143.8 548.0,142.4 549.1,141.1 550.1,139.6 551.4,138.0 552.8,136.1 553.9,134.5 554.5,133.6 555.2,132.7 556.0,131.8 556.8,130.7 557.1,129.3 557.5,128.2 557.9,127.2 558.5,125.9 559.7,123.5 560.8,121.3 561.8,119.1 562.8,117.2 563.7,115.2 564.6,113.5 565.3,111.9 566.0,110.3 566.4,109.2 566.7,108.2 566.9,107.3 567.2,106.4 567.3,105.5 567.6,104.6 568.0,103.5 568.3,102.3 568.7,100.2 569.0,99.2 569.3,98.2 570.4,97.6 571.7,97.0 572.5,96.3 573.6,96.8 574.8,98.0" fill="none" stroke="#62c688" stroke-width="1.4" stroke-dasharray="3.6 1.5"/>
<polyline points="149.6,551.7 149.3,550.5 149.5,549.2 150.2,547.8 151.6,543.9 153.4,540.0 155.0,536.7 156.4,534.0 157.9,531.3 159.4,528.6 160.8,526.0 162.3,523.5 163.7,521.1 165.0,519.1 166.3,517.1 167.8,515.2 169.2,513.2 170.4,511.3 171.7,509.5 172.9,507.6 174.2,505.7 175.7,503.6 177.2,501.5 178.6,499.4 180.3,497.1 181.8,494.9 183.4,492.7 185.0,490.5 186.6,488.2 188.2,486.0 189.8,483.8 191.4,481.5 192.8,479.6 194.2,477.6 195.7,475.6 197.1,473.6 198.5,471.7 199.9,469.7 201.3,467.8 202.7,465.8 204.0,463.8 205.3,461.9 206.5,460.1 207.6,458.3 208.8,456.6 209.9,454.7 211.0,452.9 212.0,451.0 213.2,449.3 214.4,447.4 215.8,445.2 217.3,443.0 218.8,440.7 220.3,438.4 221.9,436.3 223.5,434.1 225.1,432.0 226.8,429.9 228.2,428.0 229.6,426.0 231.1,424.1 232.5,422.2 233.9,420.2 235.5,418.1 237.3,415.8 239.1,413.5 240.9,411.2 242.7,409.0 244.4,407.2 245.9,405.7 247.4,404.1 248.7,402.7 249.9,401.2 251.2,399.3 252.5,397.3 253.9,395.3 255.5,393.2 257.6,390.9 259.6,388.7 261.6,386.6 263.4,384.7 264.9,383.0 266.3,381.4 267.7,379.7 268.9,378.2 270.2,376.8 271.5,375.2 272.8,373.6 274.1,371.9 275.4,370.2 276.7,368.4 278.0,366.7 279.5,364.7 281.0,362.8 282.5,360.7 284.2,358.5 285.9,356.3 287.6,354.2 289.3,352.1 291.1,350.0 292.9,348.0 294.7,345.9 296.5,344.0 298.1,342.1 299.7,340.3 301.3,338.5 302.8,336.9 304.2,335.3 305.6,333.7 307.1,332.1 308.4,330.4 309.9,328.6 311.4,326.7 312.9,324.9 314.5,322.8 316.2,320.8 318.0,318.8 319.8,316.8 321.6,314.8 323.4,312.7 325.3,310.7 327.1,308.7 329.0,306.7 330.8,304.8 332.5,303.1 334.2,301.5 335.9,299.8 337.4,298.3 338.8,296.7 340.2,295.1 341.5,293.5 343.0,291.9 344.6,290.1 346.2,288.3 347.9,286.4 349.7,284.4 351.5,282.4 353.3,280.3 355.2,278.4 357.2,276.4 359.3,274.4 361.3,272.3 363.2,270.4 365.1,268.7 367.0,266.9 368.9,265.2 370.8,263.4 372.6,261.8 374.3,260.1 376.1,258.5 377.8,256.9 379.5,255.3 381.1,254.0 382.7,252.6 384.3,251.3 385.9,249.8 387.4,248.4 389.0,246.9 390.6,245.3 392.4,243.7 394.2,241.9 396.2,240.1 398.3,238.2 400.3,236.3 402.4,234.5 404.5,232.6 406.8,231.0 409.1,229.6 411.5,228.1 413.8,226.6 416.0,225.3 418.2,223.9 420.4,222.6 422.6,221.3 424.7,219.9 426.9,218.5 428.9,217.1 431.0,215.8 433.0,214.5 435.0,213.1 437.0,211.8 438.9,210.4 441.3,208.7 443.7,206.9 446.1,205.2 448.8,203.2 451.7,201.6 454.7,199.9 457.9,198.1 461.2,196.4 463.9,194.9 466.6,193.5 469.5,192.2 472.0,191.2 474.3,190.1 476.7,189.1 478.6,188.3 480.3,187.4 482.1,186.5 483.9,185.6 485.7,184.6 487.5,183.6 489.4,182.5 491.1,181.5 493.0,180.4 495.1,179.3 497.0,178.2 498.8,177.1 500.4,176.1 502.0,175.1 503.7,174.1" fill="none" stroke="#40ac96" stroke-width="1.4" stroke-dasharray="3.6 1.5"/>
<polyline points="502.0,175.1 503.7,174.1 505.4,172.9 507.1,171.7 508.8,170.4 510.4,169.2 512.2,167.9 514.2,166.5 516.3,165.0 518.5,163.4 520.7,161.9 522.9,160.3 525.0,158.9 527.1,157.7 529.2,156.4 531.2,155.1 532.5,154.1 533.4,153.4 534.5,152.6 535.7,151.8 536.8,150.6 537.7,149.4 538.7,148.2 539.6,147.3 541.0,145.9 542.5,144.3 543.7,143.0 544.7,141.7 545.8,140.4 546.9,139.1 547.9,137.7 549.1,136.0 550.5,134.1 551.6,132.5 552.1,131.7 552.7,130.9 553.6,130.1 554.3,129.1 554.6,127.8 554.9,126.7 555.3,125.8 555.8,124.6 557.0,122.2 558.1,119.9 559.1,117.8 560.1,115.9 561.0,113.9 561.9,112.2 562.6,110.7 563.2,109.1 563.6,108.1 563.9,107.2 564.1,106.4 564.3,105.6 564.4,104.8 564.7,104.0 565.0,103.0 565.3,101.9 565.7,99.9 566.0,99.0 566.3,98.1 567.4,97.6 568.7,97.2 569.5,96.6 570.7,97.3 572.0,98.9" fill="none" stroke="#52ba90" stroke-width="1.4" stroke-dasharray="3.6 1.5"/>
<polyline points="146.8,550.4 146.6,549.3 146.7,548.2 147.3,546.8 148.8,542.8 150.7,538.7 152.4,535.3 153.8,532.5 155.3,529.7 156.8,527.0 158.3,524.4 159.8,521.9 161.2,519.4 162.5,517.4 163.9,515.5 165.3,513.5 166.7,511.6 167.9,509.7 169.2,507.8 170.4,506.0 171.7,504.0 173.2,502.0 174.7,499.9 176.1,497.8 177.8,495.4 179.4,493.2 181.0,490.9 182.6,488.7 184.2,486.4 185.8,484.2 187.4,481.9 189.1,479.7 190.5,477.7 191.9,475.7 193.3,473.7 194.8,471.8 196.2,469.8 197.6,467.8 199.0,465.9 200.3,463.9 201.7,461.9 203.0,460.0 204.1,458.2 205.2,456.5 206.4,454.7 207.5,453.0 208.5,451.1 209.6,449.3 210.8,447.5 211.9,445.7 213.4,443.5 214.9,441.2 216.4,438.9 217.9,436.6 219.5,434.4 221.2,432.3 222.8,430.2 224.4,428.0 225.9,426.1 227.3,424.2 228.7,422.2 230.1,420.3 231.6,418.3 233.2,416.2 235.0,413.9 236.8,411.5 238.6,409.2 240.5,407.0 242.2,405.2 243.7,403.7 245.1,402.1 246.4,400.8 247.6,399.3 248.9,397.3 250.2,395.4 251.6,393.4 253.2,391.2 255.3,388.9 257.4,386.7 259.4,384.6 261.2,382.6 262.6,381.0 264.1,379.4 265.5,377.7 266.7,376.3 267.9,374.8 269.2,373.3 270.5,371.7 271.8,370.0 273.1,368.3 274.3,366.6 275.6,364.8 277.1,362.9 278.6,360.9 280.2,358.8 281.9,356.6 283.6,354.4 285.3,352.2 287.0,350.1 288.8,348.1 290.7,346.0 292.5,343.9 294.3,341.9 295.9,340.1 297.5,338.3 299.1,336.5 300.5,334.9 302.0,333.3 303.4,331.7 304.8,330.1 306.1,328.4 307.6,326.6 309.1,324.8 310.6,322.9 312.3,320.8 314.0,318.8 315.8,316.8 317.6,314.8 319.4,312.7 321.2,310.7 323.1,308.6 325.0,306.6 326.8,304.6 328.7,302.7 330.4,301.0 332.1,299.3 333.7,297.7 335.2,296.2 336.6,294.6 338.0,293.0 339.4,291.5 340.8,289.9 342.4,288.1 344.0,286.3 345.7,284.4 347.5,282.3 349.4,280.3 351.2,278.3 353.1,276.3 355.1,274.3 357.2,272.2 359.3,270.1 361.2,268.2 363.1,266.5 365.0,264.7 366.9,263.0 368.8,261.2 370.6,259.5 372.3,257.9 374.1,256.3 375.8,254.6 377.5,253.1 379.0,251.7 380.6,250.4 382.2,249.1 383.8,247.7 385.3,246.2 386.9,244.7 388.5,243.2 390.2,241.6 392.1,239.8 394.1,237.9 396.2,236.0 398.3,234.1 400.4,232.2 402.5,230.4 404.8,228.8 407.1,227.3 409.5,225.8 411.9,224.3 414.1,223.0 416.3,221.6 418.5,220.3 420.7,219.0 422.9,217.5 425.0,216.1 427.1,214.8 429.1,213.4 431.1,212.1 433.1,210.8 435.1,209.5 437.0,208.1 439.5,206.3 441.9,204.5 444.4,202.7 447.1,200.8 450.1,199.0 453.1,197.3 456.4,195.5 459.8,193.7 462.6,192.2 465.4,190.7 468.3,189.5 470.8,188.4 473.2,187.4 475.5,186.3 477.4,185.5 479.1,184.7 480.9,183.8 482.6,182.9 484.4,181.9 486.2,180.9 488.0,179.8 489.7,178.8 491.7,177.8 493.7,176.6 495.6,175.5 497.4,174.5 498.9,173.5 500.5,172.5 502.2,171.5" fill="none" stroke="#3aa49a" stroke-width="1.4" stroke-dasharray="3.6 1.5"/>
<polyline points="500.5,172.5 502.2,171.5 503.9,170.3 505.5,169.1 507.2,167.9 508.8,166.7 510.6,165.4 512.6,164.0 514.7,162.5 516.9,160.9 519.1,159.3 521.4,157.7 523.5,156.4 525.6,155.1 527.6,153.8 529.7,152.5 530.9,151.6 531.7,150.9 532.8,150.2 533.9,149.4 534.9,148.3 535.8,147.1 536.8,146.0 537.6,145.1 538.9,143.7 540.4,142.1 541.6,140.8 542.6,139.6 543.6,138.3 544.7,137.0 545.6,135.7 546.9,134.0 548.2,132.2 549.3,130.6 549.8,129.8 550.3,129.1 551.1,128.4 551.8,127.4 552.0,126.2 552.3,125.2 552.6,124.4 553.1,123.2 554.3,120.9 555.4,118.6 556.5,116.4 557.4,114.5 558.3,112.6 559.1,110.9 559.9,109.4 560.5,107.9 560.8,107.1 561.0,106.2 561.2,105.5 561.4,104.8 561.4,104.1 561.7,103.4 562.1,102.5 562.3,101.5 562.8,99.5 563.0,98.7 563.3,98.0 564.4,97.6 565.7,97.3 566.6,96.9 567.7,97.9 569.1,99.8" fill="none" stroke="#48b094" stroke-width="1.4" stroke-dasharray="3.6 1.5"/>
<polyline points="144.1,549.1 143.8,548.2 143.9,547.1 144.5,545.8 146.1,541.6 148.0,537.4 149.7,533.9 151.2,531.1 152.7,528.2 154.3,525.4 155.8,522.8 157.3,520.2 158.7,517.8 160.0,515.8 161.4,513.8 162.8,511.8 164.2,509.9 165.4,508.0 166.6,506.2 167.8,504.3 169.1,502.4 170.6,500.3 172.1,498.2 173.6,496.1 175.3,493.7 176.9,491.4 178.5,489.2 180.1,486.9 181.8,484.6 183.4,482.4 185.1,480.1 186.7,477.8 188.1,475.8 189.6,473.9 191.0,471.9 192.4,469.9 193.8,467.9 195.3,466.0 196.6,464.0 198.0,462.0 199.3,460.0 200.6,458.1 201.7,456.4 202.9,454.7 204.0,452.9 205.1,451.2 206.1,449.3 207.2,447.5 208.3,445.8 209.5,444.0 211.0,441.7 212.5,439.4 214.0,437.1 215.5,434.8 217.2,432.6 218.8,430.5 220.4,428.3 222.1,426.2 223.5,424.2 224.9,422.3 226.4,420.4 227.8,418.4 229.2,416.5 230.9,414.3 232.7,412.0 234.5,409.6 236.4,407.2 238.3,405.0 240.0,403.2 241.4,401.7 242.9,400.1 244.1,398.8 245.3,397.4 246.6,395.4 247.9,393.5 249.3,391.5 250.9,389.3 253.1,387.0 255.1,384.7 257.1,382.5 259.0,380.6 260.4,379.0 261.9,377.3 263.3,375.7 264.4,374.3 265.6,372.9 266.9,371.4 268.2,369.8 269.5,368.1 270.7,366.4 272.0,364.7 273.3,363.0 274.8,361.0 276.3,359.0 277.8,357.0 279.6,354.7 281.3,352.5 283.0,350.3 284.8,348.2 286.6,346.1 288.4,344.0 290.3,341.9 292.0,339.9 293.7,338.1 295.3,336.3 296.9,334.5 298.3,332.9 299.7,331.3 301.1,329.7 302.5,328.1 303.9,326.5 305.3,324.7 306.8,322.8 308.3,320.9 310.0,318.9 311.7,316.9 313.5,314.8 315.4,312.8 317.2,310.7 319.1,308.6 320.9,306.6 322.8,304.5 324.7,302.5 326.6,300.6 328.3,298.9 329.9,297.2 331.6,295.6 333.1,294.1 334.4,292.5 335.8,291.0 337.2,289.5 338.6,287.9 340.2,286.1 341.8,284.3 343.5,282.3 345.3,280.3 347.2,278.2 349.0,276.2 350.9,274.2 353.0,272.1 355.1,270.0 357.2,268.0 359.1,266.1 361.0,264.3 362.9,262.5 364.9,260.7 366.8,259.0 368.5,257.3 370.3,255.7 372.1,254.1 373.8,252.4 375.5,250.9 377.0,249.5 378.6,248.2 380.2,246.9 381.7,245.5 383.2,244.1 384.8,242.6 386.4,241.1 388.1,239.4 390.0,237.6 392.0,235.8 394.1,233.9 396.2,231.9 398.4,230.0 400.5,228.1 402.8,226.5 405.2,225.0 407.6,223.5 409.9,222.0 412.1,220.7 414.4,219.3 416.6,217.9 418.8,216.6 421.0,215.2 423.1,213.8 425.2,212.4 427.2,211.1 429.3,209.8 431.3,208.4 433.2,207.1 435.2,205.7 437.6,203.9 440.1,202.1 442.6,200.3 445.4,198.3 448.5,196.5 451.5,194.8 455.0,192.8 458.4,191.0 461.3,189.5 464.1,188.0 467.1,186.7 469.6,185.6 472.0,184.6 474.4,183.5 476.2,182.7 477.9,181.9 479.6,181.1 481.4,180.2 483.1,179.2 484.9,178.2 486.7,177.1 488.4,176.2 490.3,175.1 492.3,174.0 494.2,172.9 495.9,171.8 497.5,170.8 499.0,169.9 500.6,168.9" fill="none" stroke="#36a09c" stroke-width="1.4" stroke-dasharray="3.6 1.5"/>
<polyline points="499.0,169.9 500.6,168.9 502.3,167.8 503.9,166.6 505.5,165.4 507.2,164.2 509.0,162.9 510.9,161.5 513.1,159.9 515.3,158.4 517.6,156.8 519.8,155.2 521.9,153.8 524.0,152.5 526.1,151.2 528.1,149.9 529.3,149.1 530.1,148.5 531.0,147.8 532.1,147.0 533.1,145.9 533.9,144.8 534.8,143.7 535.6,142.9 536.9,141.5 538.4,139.9 539.5,138.7 540.5,137.5 541.4,136.3 542.4,135.0 543.4,133.7 544.6,132.0 546.0,130.2 547.0,128.7 547.4,128.0 547.9,127.4 548.6,126.7 549.2,125.8 549.4,124.7 549.7,123.7 549.9,123.0 550.5,121.9 551.6,119.5 552.7,117.2 553.8,115.1 554.7,113.2 555.6,111.3 556.4,109.6 557.1,108.2 557.7,106.7 558.0,106.0 558.2,105.2 558.3,104.6 558.5,104.1 558.5,103.5 558.8,102.9 559.1,102.1 559.4,101.1 559.8,99.2 560.0,98.5 560.3,97.8 561.4,97.6 562.7,97.5 563.6,97.2 564.8,98.5 566.2,100.7" fill="none" stroke="#40a898" stroke-width="1.4" stroke-dasharray="3.6 1.5"/>
<polyline points="141.4,547.8 141.0,547.0 141.1,546.0 141.7,544.8 143.3,540.5 145.3,536.1 147.1,532.5 148.6,529.6 150.1,526.7 151.7,523.9 153.2,521.2 154.7,518.6 156.2,516.1 157.5,514.1 158.9,512.1 160.3,510.2 161.7,508.2 162.9,506.4 164.1,504.5 165.3,502.7 166.6,500.8 168.1,498.7 169.6,496.6 171.1,494.4 172.9,492.0 174.5,489.7 176.1,487.5 177.7,485.1 179.4,482.8 181.0,480.5 182.7,478.2 184.4,475.9 185.8,474.0 187.2,472.0 188.6,470.0 190.1,468.0 191.5,466.0 192.9,464.1 194.3,462.1 195.6,460.1 197.0,458.2 198.3,456.3 199.4,454.5 200.5,452.8 201.6,451.1 202.7,449.4 203.7,447.6 204.7,445.8 205.9,444.1 207.0,442.3 208.5,440.0 210.0,437.7 211.6,435.4 213.1,433.0 214.8,430.8 216.4,428.6 218.1,426.5 219.7,424.3 221.2,422.4 222.6,420.4 224.0,418.5 225.4,416.6 226.9,414.6 228.5,412.4 230.4,410.0 232.3,407.7 234.1,405.3 236.1,403.0 237.8,401.2 239.2,399.7 240.6,398.2 241.9,396.9 243.0,395.5 244.3,393.5 245.6,391.6 246.9,389.6 248.7,387.4 250.8,385.0 252.9,382.7 254.9,380.5 256.8,378.5 258.2,376.9 259.7,375.3 261.0,373.7 262.2,372.3 263.3,370.9 264.6,369.4 265.9,367.9 267.1,366.2 268.4,364.5 269.6,362.8 270.9,361.1 272.4,359.1 273.9,357.2 275.5,355.1 277.3,352.8 279.0,350.6 280.7,348.4 282.5,346.2 284.3,344.1 286.2,342.0 288.1,339.9 289.8,337.9 291.4,336.1 293.1,334.3 294.7,332.5 296.1,330.9 297.5,329.3 298.9,327.7 300.3,326.2 301.6,324.5 303.0,322.7 304.5,320.9 306.0,319.0 307.7,316.9 309.5,314.9 311.3,312.8 313.1,310.7 315.0,308.7 316.9,306.6 318.7,304.5 320.6,302.4 322.5,300.4 324.5,298.4 326.1,296.8 327.8,295.1 329.5,293.5 330.9,292.0 332.3,290.4 333.6,288.9 335.0,287.4 336.4,285.8 338.0,284.0 339.6,282.2 341.3,280.3 343.2,278.2 345.0,276.1 346.9,274.1 348.8,272.1 350.9,270.0 353.0,267.9 355.1,265.8 357.1,263.9 359.0,262.1 360.9,260.3 362.8,258.5 364.8,256.7 366.5,255.1 368.3,253.5 370.1,251.8 371.8,250.2 373.5,248.7 375.0,247.3 376.5,246.0 378.1,244.7 379.7,243.3 381.2,241.9 382.7,240.5 384.3,238.9 386.0,237.3 387.9,235.5 389.9,233.6 392.0,231.7 394.2,229.7 396.3,227.8 398.5,225.9 400.8,224.3 403.2,222.8 405.6,221.2 408.0,219.7 410.2,218.4 412.4,217.0 414.7,215.6 416.9,214.3 419.1,212.9 421.2,211.5 423.3,210.1 425.3,208.8 427.4,207.4 429.4,206.1 431.4,204.8 433.3,203.4 435.8,201.5 438.3,199.7 440.9,197.9 443.8,195.8 446.8,194.0 450.0,192.2 453.5,190.2 457.1,188.4 460.0,186.8 462.9,185.3 465.9,184.0 468.4,182.9 470.9,181.8 473.2,180.8 475.0,180.0 476.7,179.2 478.4,178.3 480.1,177.5 481.8,176.5 483.5,175.5 485.3,174.5 487.0,173.5 488.9,172.4 490.9,171.3 492.8,170.2 494.5,169.2 496.0,168.2 497.5,167.3 499.1,166.3" fill="none" stroke="#36a09c" stroke-width="1.4" stroke-dasharray="3.6 1.5"/>
<polyline points="497.5,167.3 499.1,166.3 500.8,165.2 502.4,164.0 503.9,162.8 505.5,161.7 507.3,160.4 509.3,159.0 511.4,157.4 513.7,155.8 516.0,154.2 518.3,152.6 520.4,151.2 522.4,150.0 524.5,148.7 526.6,147.4 527.7,146.5 528.4,146.0 529.3,145.3 530.3,144.6 531.2,143.6 532.0,142.4 532.8,141.4 533.5,140.6 534.8,139.3 536.3,137.8 537.4,136.6 538.3,135.4 539.2,134.2 540.2,133.0 541.1,131.7 542.3,130.1 543.7,128.2 544.7,126.7 545.0,126.1 545.5,125.6 546.1,125.0 546.7,124.2 546.9,123.1 547.1,122.3 547.3,121.7 547.8,120.6 548.9,118.2 550.0,115.9 551.1,113.8 552.0,111.9 552.9,110.0 553.7,108.3 554.4,107.0 554.9,105.5 555.2,104.9 555.4,104.2 555.5,103.7 555.6,103.3 555.6,102.8 555.9,102.3 556.1,101.6 556.4,100.8 556.8,98.8 557.0,98.3 557.3,97.7 558.4,97.6 559.7,97.6 560.6,97.5 561.8,99.0 563.4,101.6" fill="none" stroke="#40a898" stroke-width="1.4" stroke-dasharray="3.6 1.5"/>
<polyline points="130.9,576.5 131.2,574.1 132.3,572.0 133.4,569.9 134.5,567.7 135.2,565.4 135.9,563.1 136.6,560.8 137.2,558.4 137.8,556.1 138.4,553.7 139.4,551.6 140.5,549.4 141.5,547.3 142.7,545.2 143.9,543.1 145.1,541.0 146.7,539.2 148.5,537.7 150.4,536.1 152.3,534.6 154.3,533.3 156.3,532.0 158.3,530.6 159.6,528.6 161.0,526.6 162.3,524.6 163.8,522.7 165.2,520.7 166.7,518.8 168.1,516.9 169.6,515.0 171.0,513.0 172.5,511.1 173.9,509.2 175.3,507.2 176.7,505.2 178.1,503.3 179.4,501.3 180.7,499.2 181.9,497.1 183.1,495.0 184.3,492.9 185.7,491.0 187.3,489.2 188.9,487.4 190.5,485.6 192.1,483.8 193.6,481.9 195.0,480.0 196.5,478.0 197.9,476.1 199.3,474.2 200.8,472.2 202.2,470.3 203.7,468.4 205.1,466.5 206.6,464.5 208.0,462.6 209.4,460.6 210.8,458.6 212.1,456.7 213.5,454.7 214.8,452.6 216.1,450.6 217.4,448.5 218.9,446.7 220.5,444.9 222.2,443.1 223.8,441.4 225.3,439.5 226.7,437.5 228.0,435.5 229.4,433.5 230.7,431.5 232.1,429.5 233.6,427.6 235.1,425.8 236.6,423.9 238.1,422.0 239.6,420.1 241.1,418.2 242.6,416.3 244.1,414.4 245.7,412.6 247.4,410.9 249.1,409.2 250.6,407.4 252.0,405.4 253.3,403.4 254.6,401.4 256.0,399.4 257.5,397.5 259.2,395.8 260.9,394.1 262.6,392.4 264.3,390.7 266.1,389.1 268.0,387.6 270.0,386.2 271.9,384.7 273.6,383.1 275.3,381.4 277.0,379.7 278.7,378.0 280.4,376.2 281.9,374.4 283.5,372.5 285.0,370.6 286.6,368.8 288.1,366.9 289.7,365.1 291.2,363.2 292.8,361.4 294.3,359.5 295.9,357.7 297.4,355.9 299.1,354.1 300.7,352.3 302.3,350.5 303.9,348.7 305.5,346.9 307.1,345.1 308.7,343.4 310.4,341.6 312.0,339.8 313.6,338.0 315.2,336.2 316.9,334.4 318.5,332.7 320.1,330.9 321.8,329.1 323.3,327.3 324.9,325.5 326.5,323.6 328.0,321.8 329.6,320.0 331.2,318.1 332.7,316.3 334.3,314.5 335.9,312.7 337.4,310.8 338.9,308.9 340.4,307.0 341.9,305.1 343.4,303.2 344.6,301.1 345.8,299.1 347.1,297.0 348.3,294.9 349.6,292.9 350.8,290.8 352.1,288.7 353.3,286.7 355.0,285.0 356.7,283.3 358.4,281.6 360.1,279.9 361.8,278.2 363.5,276.5 365.2,274.8 367.0,273.0 368.5,271.3 369.6,269.1 370.7,266.9 372.3,265.2 374.0,263.5 375.7,261.8 377.4,260.1 379.4,258.8 381.6,257.9 383.9,256.9 386.1,256.0 388.1,254.7 390.0,253.2 391.9,251.7 393.7,250.2 395.6,248.7 397.5,247.2 399.4,245.7 401.3,244.2 403.1,242.6 405.1,241.3 407.1,239.9 409.1,238.5 411.1,237.1 413.0,235.7 414.8,234.2 416.7,232.7 418.6,231.1 420.5,229.7 422.5,228.3 424.4,226.9 426.4,225.5 428.4,224.1 430.5,222.9 432.5,221.7 434.6,220.4 436.7,219.2 439.0,218.4 441.2,217.7 443.5,216.9 445.8,216.1 448.0,215.1 450.1,213.9 452.1,212.6 454.2,211.4 456.3,210.2 458.2,208.8 460.1,207.3 462.0,205.7 463.9,204.2 465.7,202.6 467.4,201.0 469.1,199.3 471.4,198.6 473.7,198.0 476.1,197.3 478.4,196.7 480.5,195.6 482.7,194.5 484.9,193.4 487.0,192.3 489.0,190.9 490.9,189.5 492.9,188.2 494.9,186.8 496.8,185.3 498.6,183.8 500.5,182.2 502.4,180.7 504.3,179.2 506.2,177.7 508.1,176.2 509.9,174.7 511.8,173.2 513.5,171.5 515.2,169.8 516.9,168.1 518.6,166.4 520.3,164.6 521.8,162.8 523.3,160.9 524.8,159.0 526.4,157.1 528.0,155.4 529.7,153.7 531.4,151.9 533.1,150.2 534.8,148.5 536.5,146.8 538.2,145.1 539.9,143.4 541.6,141.7 543.3,140.0 545.0,138.3 546.8,136.6 548.6,135.0 550.4,133.4 552.2,131.8 554.0,130.3 555.9,128.8 557.9,127.4 559.8,125.9 561.6,124.4 563.5,122.8 565.3,121.2 567.1,119.7 569.0,118.2 571.0,116.8 572.9,115.3 574.7,113.8 576.6,112.2 578.4,110.7 580.1,108.9 581.6,107.1 583.1,105.2 584.5,103.2 585.9,101.2 587.1,99.2 588.2,97.0 589.2,94.8" fill="none" stroke="#1b4a9a" stroke-width="2.6"/>
<polygon points="162.4,527.5 158.2,531.7 152,534.8 145.7,540 141.5,547.3 138.4,553.6 136.3,561.9 134.3,568.2 138.4,565 146.8,558.8 155.1,552.5 159.3,543.2 163.4,532.8" fill="#1838a2"/>
<polygon points="139.9,647.8 140.6,645.5 141.4,643.3 142.1,641.0 142.8,638.7 143.6,636.4 144.3,634.1 145.0,631.9 145.7,629.7 146.4,627.5 147.2,625.3 148.1,623.2 149.1,621.0 150.0,618.9 150.9,616.9 151.9,614.7 152.8,612.6 153.8,610.5 154.9,608.5 156.0,606.5 157.1,604.5 158.3,602.6 159.5,600.8 160.8,598.9 162.0,597.0 163.5,595.2 165.0,593.3 166.6,591.5 168.1,589.7 169.4,587.8 170.8,585.9 172.1,584.0 173.5,582.1 175.1,580.5 176.8,578.9 178.7,576.9 180.7,574.9 182.6,572.8 184.3,570.8 184.7,568.1 185.0,565.5 185.6,563.0 186.6,560.7 187.4,558.8 188.4,556.9 189.4,555.0 190.6,553.1 191.7,551.1 192.9,549.1 194.1,547.2 195.3,545.2 196.6,543.2 198.0,541.3 199.4,539.4 200.8,537.4 202.2,535.4 203.5,533.4 204.8,531.3 206.1,529.2 207.3,527.2 208.7,525.2 210.0,523.3 211.3,521.3 212.6,519.4 213.9,517.4 215.3,515.5 216.6,513.5 218.0,511.7 219.5,509.9 220.9,508.0 222.4,506.2 223.9,504.3 225.4,502.4 226.9,500.6 228.4,498.7 229.9,496.8 231.4,495.0 232.9,493.1 234.4,491.2 235.9,489.3 237.4,487.5 238.9,485.5 240.5,483.6 242.0,481.7 243.5,479.7 244.9,477.7 246.3,475.7 247.7,473.7 249.1,471.7 250.5,469.8 251.8,467.9 253.2,465.9 254.5,464.0 256.0,462.2 257.4,460.3 258.9,458.5 260.4,456.7 261.9,454.8 263.4,452.9 264.9,451.0 266.4,449.1 267.8,447.2 269.3,445.4 270.8,443.6 272.2,441.8 273.7,440.0 275.2,438.2 276.9,436.5 278.6,434.8 280.3,433.0 282.1,431.2 283.6,429.3 285.0,427.4 286.5,425.4 287.9,423.5 289.3,421.6 290.9,420.0 292.5,418.3 294.1,416.6 295.8,414.9 297.5,413.2 299.1,411.4 300.7,409.5 302.3,407.7 304.0,405.8 305.6,404.0 307.2,402.1 308.7,400.2 310.2,398.3 311.7,396.3 313.2,394.4 314.7,392.5 316.2,390.7 317.7,388.8 319.1,387.0 320.6,385.1 322.1,383.3 323.6,381.5 325.2,379.8 326.8,378.0 328.3,376.3 329.9,374.5 331.6,372.8 333.2,371.0 334.8,369.2 336.5,367.4 338.1,365.6 339.8,363.8 341.4,362.0 343.0,360.2 344.5,358.3 346.0,356.4 347.6,354.6 349.1,352.8 350.7,351.0 352.2,349.3 353.8,347.5 355.4,345.8 357.0,344.0 358.6,342.3 360.2,340.6 361.8,338.9 363.5,337.2 365.2,335.6 367.0,333.9 368.7,332.2 370.5,330.5 372.1,328.7 373.8,326.9 375.4,325.1 377.1,323.3 378.7,321.5 380.3,319.8 381.9,318.0 383.5,316.3 385.1,314.5 386.7,312.8 388.4,311.1 390.1,309.5 391.8,307.9 393.4,306.3 395.1,304.6 396.9,303.0 398.7,301.4 400.4,299.9 402.2,298.3 404.0,296.7 405.8,295.0 407.5,293.4 409.3,291.8 411.1,290.2 413.0,288.6 414.8,286.9 416.6,285.3 418.4,283.6 420.1,281.9 421.8,280.1 423.5,278.4 425.2,276.7 426.9,275.0 428.5,273.3 430.2,271.7 431.9,270.1 433.6,268.5 435.3,266.9 437.1,265.4 438.9,263.8 440.7,262.3 442.5,260.8 444.3,259.3 446.2,257.7 448.0,256.2 449.8,254.7 451.7,253.2 453.6,251.7 455.4,250.3 457.3,248.8 459.2,247.3 461.1,245.8 462.9,244.3 464.8,242.8 466.6,241.3 468.4,239.9 470.2,238.4 472.0,237.0 473.9,235.9 475.8,234.7 477.7,233.6 479.6,232.6 481.7,231.6 483.7,230.6 485.8,229.7 488.0,228.9 490.2,228.0 492.4,227.1 494.7,226.2 497.0,225.2 499.2,224.2 501.5,223.2 503.7,222.1 505.9,221.0 508.1,219.9 510.3,218.8 512.4,217.7 514.6,216.6 516.8,215.4 518.9,214.3 521.1,213.1 523.3,211.9 525.4,210.7 527.5,209.4 529.6,208.1 531.7,206.7 533.7,205.4 535.8,204.1 537.8,202.8 539.8,201.5 541.7,200.2 543.7,198.9 545.7,197.6 547.7,196.4 549.8,195.2 551.9,194.0 554.0,192.9 556.1,191.5 558.3,190.1 560.5,188.7 562.6,187.4 564.6,185.7 566.4,184.0 568.3,182.3 570.2,180.6 572.1,178.9 573.9,177.3 575.7,175.6 577.4,173.8 579.2,172.0 580.9,170.1 582.5,168.2 584.1,166.4 585.7,164.5 587.3,162.6 588.9,160.6 590.6,158.6 592.3,156.7 593.9,154.7 595.0,152.4 596.1,150.0 597.3,147.7 598.4,145.4 599.5,143.3 600.5,141.2 601.6,139.0 602.7,136.8 603.8,134.6 604.9,132.4 606.0,130.2 607.0,127.9 608.1,125.5 609.0,123.1 609.8,120.6 610.7,118.1 611.2,115.5 611.7,112.9 612.1,110.4 612.4,107.8 612.7,105.4 612.9,102.8 613.1,100.1 613.3,97.5 613.6,94.8 613.3,92.1 612.9,89.2 612.1,86.2 611.1,83.1 610.0,80.1 608.3,77.9 606.3,76.0 603.9,74.4 601.1,73.0 595.2,80.8 596.5,82.1 597.3,83.9 597.6,86.0 597.3,88.5 595.5,90.6 593.5,92.1 592.9,93.1 592.0,94.3 591.3,96.0 590.0,97.5 588.8,99.1 588.5,100.8 588.2,102.5 587.7,104.7 587.4,106.5 586.9,108.2 586.4,109.8 586.1,111.5 585.6,113.1 585.2,114.7 584.6,116.4 584.0,118.0 583.2,119.9 582.3,121.8 581.3,123.8 580.3,125.8 579.4,127.9 578.3,130.0 577.2,132.3 576.1,134.5 575.3,136.2 574.6,137.8 573.9,139.5 573.2,141.3 572.2,142.9 571.0,144.3 569.9,145.7 568.9,147.1 567.6,148.9 566.2,150.8 564.8,152.6 563.6,154.3 562.2,155.9 560.9,157.5 559.5,159.1 558.1,160.7 556.5,162.4 554.9,163.9 553.5,165.3 552.1,166.8 550.8,168.3 549.3,169.8 547.7,171.0 546.1,172.1 544.6,173.2 542.9,174.4 540.8,175.7 538.8,177.0 536.7,178.3 534.7,179.6 532.6,181.1 530.6,182.5 528.5,184.0 526.5,185.4 524.6,186.9 522.7,188.2 520.8,189.6 519.0,190.9 517.1,192.2 515.2,193.5 513.3,194.7 511.4,195.8 509.5,197.0 507.6,198.1 505.6,199.3 503.5,200.5 501.5,201.6 499.5,202.7 497.5,203.9 495.5,205.0 493.5,206.1 491.5,207.1 489.4,208.1 487.4,209.0 485.3,210.0 483.1,211.0 480.8,212.0 478.5,212.9 476.1,214.0 473.7,215.2 471.4,216.5 468.9,217.8 466.4,219.2 464.0,220.5 461.6,221.9 459.4,223.5 457.3,225.0 455.2,226.5 453.1,228.1 451.1,229.5 449.1,230.8 447.1,232.1 445.1,233.4 443.0,234.8 441.0,236.1 438.9,237.5 436.9,238.8 434.7,240.1 432.6,241.3 430.5,242.6 428.3,243.9 426.1,245.3 423.9,246.6 421.8,248.0 419.6,249.4 417.7,251.1 415.8,252.8 413.9,254.6 411.9,256.3 410.1,258.0 408.3,259.7 406.5,261.4 404.9,263.0 403.2,264.5 401.6,266.1 399.8,267.6 398.1,269.1 396.4,270.6 394.7,272.1 393.0,273.7 391.2,275.3 389.4,276.9 387.7,278.6 385.9,280.2 384.1,281.9 382.3,283.6 380.5,285.3 378.7,287.0 376.9,288.7 375.0,290.6 373.1,292.4 371.3,294.3 369.5,296.1 367.8,298.0 366.2,299.9 364.5,301.8 362.8,303.6 361.2,305.4 359.6,307.2 358.1,308.9 356.6,310.6 355.1,312.3 353.6,314.0 352.0,315.7 350.3,317.3 348.6,319.0 346.9,320.7 345.1,322.5 343.4,324.4 341.7,326.2 340.0,328.1 338.3,330.0 336.6,331.9 334.9,333.8 333.2,335.7 331.6,337.6 330.0,339.6 328.5,341.4 327.0,343.3 325.5,345.1 324.1,346.9 322.6,348.7 321.0,350.4 319.5,352.1 318.0,353.8 316.4,355.6 314.8,357.4 313.2,359.2 311.5,361.1 309.8,363.0 308.1,364.9 306.5,366.8 304.9,368.8 303.3,370.8 301.7,372.8 300.2,374.8 298.7,376.8 297.2,378.7 295.7,380.7 294.4,382.5 293.0,384.4 291.6,386.2 290.2,388.0 288.8,389.8 287.3,391.5 285.9,393.2 284.5,394.9 283.0,396.6 281.5,398.4 279.9,400.1 278.2,401.9 276.4,403.8 274.6,405.8 272.8,407.7 271.3,409.7 269.9,411.7 268.6,413.7 267.2,415.7 265.9,417.4 264.4,419.0 262.8,420.7 261.2,422.4 259.6,424.1 257.9,426.1 256.3,428.2 254.7,430.2 253.1,432.3 251.6,434.3 250.2,436.2 248.7,438.2 247.3,440.1 245.9,442.0 244.5,444.0 242.9,446.0 241.4,448.0 239.9,449.9 238.4,452.0 237.0,454.1 235.7,456.2 234.3,458.3 232.9,460.4 231.6,462.3 230.4,464.3 229.2,466.2 228.0,468.2 226.8,470.2 225.5,472.1 224.2,474.0 223.0,475.9 221.7,477.9 220.3,479.9 218.9,481.9 217.6,483.9 216.1,485.8 214.7,487.8 213.3,489.7 211.9,491.7 210.5,493.7 209.1,495.6 207.6,497.7 206.2,499.7 204.7,501.7 203.2,503.8 201.8,505.8 200.3,507.9 198.9,509.9 197.4,512.0 196.0,514.0 194.6,516.0 193.1,518.0 191.8,520.0 190.5,521.9 189.2,523.9 187.9,525.8 186.5,527.8 185.1,529.7 183.8,531.7 182.4,533.7 181.2,535.9 179.9,538.2 178.6,540.4 177.4,542.7 176.2,545.0 175.0,547.3 173.7,549.8 172.5,552.6 171.5,555.3 170.7,557.3 170.2,559.3 170.0,561.3 170.0,563.2 168.6,564.4 167.2,565.5 165.9,566.6 164.6,567.8 162.8,569.5 160.9,571.4 159.4,573.4 157.9,575.4 156.4,577.5 154.9,579.5 153.3,581.4 151.7,583.3 150.2,585.2 148.6,587.1 147.1,589.3 145.6,591.5 144.1,593.7 142.6,596.0 141.4,598.3 140.1,600.6 138.9,602.9 137.8,605.3 136.8,607.6 135.7,609.9 134.7,612.3 133.6,614.6 132.6,617.0 131.6,619.3 130.8,621.7 130.1,624.2 129.3,626.6 128.5,629.0 127.8,631.3 127.0,633.6 126.3,635.9 125.6,638.2 124.8,640.5 124.1,642.8" fill="#2a9ab0"/>
<polygon points="139.9,647.8 140.6,645.5 141.4,643.3 142.1,641.0 142.8,638.7 143.6,636.4 144.3,634.1 145.0,631.9 145.7,629.7 146.4,627.5 147.2,625.3 148.1,623.2 149.1,621.0 150.0,618.9 150.9,616.9 151.9,614.7 152.8,612.6 153.8,610.5 154.9,608.5 156.0,606.5 157.1,604.5 158.3,602.6 159.5,600.8 160.8,598.9 162.0,597.0 163.5,595.2 165.0,593.3 166.6,591.5 168.1,589.7 169.4,587.8 170.8,585.9 172.1,584.0 173.5,582.1 175.1,580.5 176.8,578.9 178.7,576.9 180.7,574.9 182.6,572.8 184.3,570.8 184.7,568.1 185.0,565.5 185.6,563.0 186.6,560.7 187.4,558.8 188.4,556.9 189.4,555.0 190.6,553.1 191.7,551.1 192.9,549.1 194.1,547.2 195.3,545.2 196.6,543.2 198.0,541.3 199.4,539.4 200.8,537.4 202.2,535.4 203.5,533.4 204.8,531.3 206.1,529.2 207.3,527.2 208.7,525.2 210.0,523.3 211.3,521.3 212.6,519.4 213.9,517.4 215.3,515.5 216.6,513.5 218.0,511.7 219.5,509.9 220.9,508.0 222.4,506.2 223.9,504.3 225.4,502.4 226.9,500.6 228.4,498.7 229.9,496.8 231.4,495.0 232.9,493.1 234.4,491.2 235.9,489.3 237.4,487.5 238.9,485.5 240.5,483.6 242.0,481.7 243.5,479.7 244.9,477.7 246.3,475.7 247.7,473.7 249.1,471.7 250.5,469.8 251.8,467.9 253.2,465.9 254.5,464.0 256.0,462.2 257.4,460.3 258.9,458.5 260.4,456.7 261.9,454.8 263.4,452.9 264.9,451.0 266.4,449.1 267.8,447.2 269.3,445.4 270.8,443.6 272.2,441.8 273.7,440.0 275.2,438.2 276.9,436.5 278.6,434.8 280.3,433.0 282.1,431.2 283.6,429.3 285.0,427.4 286.5,425.4 287.9,423.5 289.3,421.6 290.9,420.0 292.5,418.3 294.1,416.6 295.8,414.9 297.5,413.2 299.1,411.4 300.7,409.5 302.3,407.7 304.0,405.8 305.6,404.0 307.2,402.1 308.7,400.2 310.2,398.3 311.7,396.3 313.2,394.4 314.7,392.5 316.2,390.7 317.7,388.8 319.1,387.0 320.6,385.1 322.1,383.3 323.6,381.5 325.2,379.8 326.8,378.0 328.3,376.3 329.9,374.5 331.6,372.8 333.2,371.0 334.8,369.2 336.5,367.4 338.1,365.6 339.8,363.8 341.4,362.0 343.0,360.2 344.5,358.3 346.0,356.4 347.6,354.6 349.1,352.8 350.7,351.0 352.2,349.3 353.8,347.5 355.4,345.8 357.0,344.0 358.6,342.3 360.2,340.6 361.8,338.9 363.5,337.2 365.2,335.6 367.0,333.9 368.7,332.2 370.5,330.5 372.1,328.7 373.8,326.9 375.4,325.1 377.1,323.3 378.7,321.5 380.3,319.8 381.9,318.0 383.5,316.3 385.1,314.5 386.7,312.8 388.4,311.1 390.1,309.5 391.8,307.9 393.4,306.3 395.1,304.6 396.9,303.0 398.7,301.4 400.4,299.9 402.2,298.3 404.0,296.7 405.8,295.0 407.5,293.4 409.3,291.8 411.1,290.2 413.0,288.6 414.8,286.9 416.6,285.3 418.4,283.6 420.1,281.9 421.8,280.1 423.5,278.4 425.2,276.7 426.9,275.0 428.5,273.3 430.2,271.7 431.9,270.1 433.6,268.5 435.3,266.9 437.1,265.4 438.9,263.8 440.7,262.3 442.5,260.8 444.3,259.3 446.2,257.7 448.0,256.2 449.8,254.7 451.7,253.2 453.6,251.7 455.4,250.3 457.3,248.8 459.2,247.3 461.1,245.8 462.9,244.3 464.8,242.8 466.6,241.3 468.4,239.9 470.2,238.4 472.0,237.0 473.9,235.9 475.8,234.7 477.7,233.6 479.6,232.6 481.7,231.6 483.7,230.6 485.8,229.7 488.0,228.9 490.2,228.0 492.4,227.1 494.7,226.2 497.0,225.2 499.2,224.2 501.5,223.2 503.7,222.1 505.9,221.0 508.1,219.9 510.3,218.8 512.4,217.7 514.6,216.6 516.8,215.4 518.9,214.3 521.1,213.1 523.3,211.9 525.4,210.7 527.5,209.4 529.6,208.1 531.7,206.7 533.7,205.4 535.8,204.1 537.8,202.8 539.8,201.5 541.7,200.2 543.7,198.9 545.7,197.6 547.7,196.4 549.8,195.2 551.9,194.0 554.0,192.9 556.1,191.5 558.3,190.1 560.5,188.7 562.6,187.4 564.6,185.7 566.4,184.0 568.3,182.3 570.2,180.6 572.1,178.9 573.9,177.3 575.7,175.6 577.4,173.8 579.2,172.0 580.9,170.1 582.5,168.2 584.1,166.4 585.7,164.5 587.3,162.6 588.9,160.6 590.6,158.6 592.3,156.7 593.9,154.7 595.0,152.4 596.1,150.0 597.3,147.7 598.4,145.4 599.5,143.3 600.5,141.2 601.6,139.0 602.7,136.8 603.8,134.6 604.9,132.4 606.0,130.2 607.0,127.9 608.1,125.5 609.0,123.1 609.8,120.6 610.7,118.1 611.2,115.5 611.7,112.9 612.1,110.4 612.4,107.8 612.7,105.4 612.9,102.8 613.1,100.1 613.3,97.5 613.6,94.8 613.3,92.1 612.9,89.2 612.1,86.2 611.1,83.1 610.0,80.1 608.3,77.9 606.3,76.0 603.9,74.4 601.1,73.0 595.3,80.7 596.6,81.9 597.4,83.7 597.8,85.9 597.6,88.3 595.9,90.4 594.0,91.9 593.4,93.0 592.6,94.2 591.9,95.9 590.6,97.5 589.5,99.1 589.2,100.9 588.9,102.6 588.5,104.8 588.2,106.6 587.7,108.4 587.2,110.0 587.0,111.7 586.5,113.4 586.1,115.0 585.5,116.7 584.9,118.4 584.2,120.4 583.3,122.2 582.3,124.2 581.3,126.3 580.3,128.4 579.2,130.5 578.2,132.7 577.1,135.0 576.2,136.7 575.5,138.4 574.8,140.1 574.1,141.9 573.0,143.5 571.8,144.9 570.7,146.3 569.7,147.8 568.4,149.6 567.0,151.5 565.6,153.3 564.3,155.0 563.0,156.6 561.6,158.2 560.2,159.8 558.8,161.4 557.2,163.1 555.6,164.7 554.2,166.0 552.8,167.5 551.4,169.1 549.9,170.6 548.3,171.7 546.6,172.9 545.1,174.0 543.4,175.2 541.3,176.5 539.3,177.7 537.2,179.0 535.2,180.3 533.1,181.8 531.1,183.3 529.0,184.7 527.0,186.2 525.0,187.6 523.1,189.0 521.3,190.3 519.4,191.6 517.6,193.0 515.7,194.3 513.8,195.4 511.9,196.6 510.0,197.7 508.0,198.9 506.0,200.1 503.9,201.3 501.9,202.4 499.9,203.5 497.9,204.7 495.9,205.9 493.9,207.0 491.9,208.0 489.8,209.0 487.8,210.0 485.7,210.9 483.5,211.9 481.2,212.9 478.9,213.9 476.5,215.0 474.2,216.2 471.9,217.4 469.4,218.8 467.0,220.1 464.6,221.5 462.3,222.8 460.1,224.4 458.0,226.0 456.0,227.6 453.9,229.1 452.0,230.5 450.0,231.9 448.0,233.2 446.0,234.6 444.0,235.9 442.0,237.3 439.9,238.7 437.9,240.0 435.8,241.3 433.7,242.7 431.6,244.0 429.5,245.3 427.4,246.7 425.2,248.1 423.1,249.5 421.0,251.0 419.1,252.7 417.2,254.4 415.3,256.1 413.4,257.8 411.6,259.5 409.8,261.2 408.0,262.8 406.3,264.5 404.7,266.1 403.0,267.6 401.3,269.2 399.5,270.6 397.8,272.1 396.1,273.6 394.4,275.2 392.6,276.9 390.9,278.5 389.1,280.2 387.3,281.8 385.5,283.5 383.7,285.2 381.9,286.9 380.1,288.5 378.3,290.3 376.5,292.1 374.7,294.0 372.9,295.8 371.1,297.6 369.4,299.5 367.8,301.4 366.1,303.3 364.4,305.1 362.9,306.9 361.3,308.7 359.7,310.5 358.2,312.2 356.7,313.9 355.2,315.6 353.6,317.3 351.9,318.9 350.2,320.6 348.5,322.3 346.7,324.1 345.0,325.9 343.3,327.8 341.6,329.7 340.0,331.6 338.3,333.5 336.6,335.3 334.9,337.2 333.3,339.1 331.8,341.0 330.2,342.9 328.7,344.8 327.3,346.6 325.8,348.4 324.3,350.2 322.7,351.9 321.2,353.6 319.6,355.3 318.0,357.1 316.4,358.9 314.8,360.7 313.2,362.6 311.5,364.5 309.8,366.4 308.2,368.3 306.6,370.2 305.0,372.2 303.5,374.2 301.9,376.2 300.4,378.2 298.9,380.1 297.4,382.0 296.0,383.9 294.6,385.7 293.2,387.6 291.9,389.4 290.4,391.1 288.9,392.9 287.4,394.5 286.0,396.2 284.5,398.0 282.9,399.7 281.3,401.4 279.6,403.3 277.9,405.1 276.1,407.0 274.3,409.0 272.8,411.0 271.4,412.9 270.0,414.9 268.7,416.9 267.3,418.6 265.8,420.2 264.2,421.9 262.6,423.6 260.9,425.3 259.2,427.3 257.6,429.3 256.0,431.3 254.5,433.4 253.0,435.4 251.5,437.3 250.1,439.2 248.6,441.1 247.2,443.1 245.7,445.0 244.2,447.0 242.7,448.9 241.2,450.9 239.7,452.9 238.3,455.0 236.9,457.1 235.5,459.2 234.1,461.3 232.9,463.2 231.6,465.1 230.4,467.1 229.2,469.1 227.9,471.0 226.6,472.9 225.3,474.9 224.0,476.8 222.7,478.7 221.3,480.7 219.9,482.7 218.5,484.6 217.1,486.6 215.7,488.5 214.2,490.5 212.8,492.4 211.4,494.4 210.0,496.3 208.5,498.3 207.0,500.4 205.5,502.4 204.1,504.4 202.6,506.4 201.2,508.5 199.7,510.5 198.2,512.5 196.8,514.5 195.4,516.5 193.9,518.5 192.6,520.5 191.3,522.4 190.0,524.4 188.7,526.3 187.2,528.3 185.8,530.2 184.5,532.2 183.1,534.2 181.8,536.3 180.5,538.6 179.3,540.8 178.0,543.0 176.7,545.3 175.5,547.6 174.3,550.1 173.0,552.8 172.0,555.5 171.1,557.5 170.6,559.5 170.5,561.5 170.4,563.4 169.0,564.7 167.7,565.8 166.3,566.9 165.0,568.1 163.2,569.9 161.3,571.7 159.8,573.7 158.3,575.8 156.8,577.8 155.3,579.8 153.7,581.7 152.1,583.6 150.6,585.5 149.0,587.4 147.5,589.6 146.0,591.8 144.5,593.9 143.1,596.2 141.8,598.5 140.6,600.8 139.4,603.1 138.2,605.5 137.2,607.8 136.2,610.1 135.1,612.5 134.1,614.8 133.1,617.2 132.1,619.5 131.3,621.9 130.5,624.3 129.7,626.7 128.9,629.1 128.2,631.5 127.5,633.7 126.7,636.0 126.0,638.3 125.3,640.6 124.5,642.9" fill="#2a96b2"/>
<polygon points="139.9,647.8 140.6,645.5 141.4,643.3 142.1,641.0 142.8,638.7 143.6,636.4 144.3,634.1 145.0,631.9 145.7,629.7 146.4,627.5 147.2,625.3 148.1,623.2 149.1,621.0 150.0,618.9 150.9,616.9 151.9,614.7 152.8,612.6 153.8,610.5 154.9,608.5 156.0,606.5 157.1,604.5 158.3,602.6 159.5,600.8 160.8,598.9 162.0,597.0 163.5,595.2 165.0,593.3 166.6,591.5 168.1,589.7 169.4,587.8 170.8,585.9 172.1,584.0 173.5,582.1 175.1,580.5 176.8,578.9 178.7,576.9 180.7,574.9 182.6,572.8 184.3,570.8 184.7,568.1 185.0,565.5 185.6,563.0 186.6,560.7 187.4,558.8 188.4,556.9 189.4,555.0 190.6,553.1 191.7,551.1 192.9,549.1 194.1,547.2 195.3,545.2 196.6,543.2 198.0,541.3 199.4,539.4 200.8,537.4 202.2,535.4 203.5,533.4 204.8,531.3 206.1,529.2 207.3,527.2 208.7,525.2 210.0,523.3 211.3,521.3 212.6,519.4 213.9,517.4 215.3,515.5 216.6,513.5 218.0,511.7 219.5,509.9 220.9,508.0 222.4,506.2 223.9,504.3 225.4,502.4 226.9,500.6 228.4,498.7 229.9,496.8 231.4,495.0 232.9,493.1 234.4,491.2 235.9,489.3 237.4,487.5 238.9,485.5 240.5,483.6 242.0,481.7 243.5,479.7 244.9,477.7 246.3,475.7 247.7,473.7 249.1,471.7 250.5,469.8 251.8,467.9 253.2,465.9 254.5,464.0 256.0,462.2 257.4,460.3 258.9,458.5 260.4,456.7 261.9,454.8 263.4,452.9 264.9,451.0 266.4,449.1 267.8,447.2 269.3,445.4 270.8,443.6 272.2,441.8 273.7,440.0 275.2,438.2 276.9,436.5 278.6,434.8 280.3,433.0 282.1,431.2 283.6,429.3 285.0,427.4 286.5,425.4 287.9,423.5 289.3,421.6 290.9,420.0 292.5,418.3 294.1,416.6 295.8,414.9 297.5,413.2 299.1,411.4 300.7,409.5 302.3,407.7 304.0,405.8 305.6,404.0 307.2,402.1 308.7,400.2 310.2,398.3 311.7,396.3 313.2,394.4 314.7,392.5 316.2,390.7 317.7,388.8 319.1,387.0 320.6,385.1 322.1,383.3 323.6,381.5 325.2,379.8 326.8,378.0 328.3,376.3 329.9,374.5 331.6,372.8 333.2,371.0 334.8,369.2 336.5,367.4 338.1,365.6 339.8,363.8 341.4,362.0 343.0,360.2 344.5,358.3 346.0,356.4 347.6,354.6 349.1,352.8 350.7,351.0 352.2,349.3 353.8,347.5 355.4,345.8 357.0,344.0 358.6,342.3 360.2,340.6 361.8,338.9 363.5,337.2 365.2,335.6 367.0,333.9 368.7,332.2 370.5,330.5 372.1,328.7 373.8,326.9 375.4,325.1 377.1,323.3 378.7,321.5 380.3,319.8 381.9,318.0 383.5,316.3 385.1,314.5 386.7,312.8 388.4,311.1 390.1,309.5 391.8,307.9 393.4,306.3 395.1,304.6 396.9,303.0 398.7,301.4 400.4,299.9 402.2,298.3 404.0,296.7 405.8,295.0 407.5,293.4 409.3,291.8 411.1,290.2 413.0,288.6 414.8,286.9 416.6,285.3 418.4,283.6 420.1,281.9 421.8,280.1 423.5,278.4 425.2,276.7 426.9,275.0 428.5,273.3 430.2,271.7 431.9,270.1 433.6,268.5 435.3,266.9 437.1,265.4 438.9,263.8 440.7,262.3 442.5,260.8 444.3,259.3 446.2,257.7 448.0,256.2 449.8,254.7 451.7,253.2 453.6,251.7 455.4,250.3 457.3,248.8 459.2,247.3 461.1,245.8 462.9,244.3 464.8,242.8 466.6,241.3 468.4,239.9 470.2,238.4 472.0,237.0 473.9,235.9 475.8,234.7 477.7,233.6 479.6,232.6 481.7,231.6 483.7,230.6 485.8,229.7 488.0,228.9 490.2,228.0 492.4,227.1 494.7,226.2 497.0,225.2 499.2,224.2 501.5,223.2 503.7,222.1 505.9,221.0 508.1,219.9 510.3,218.8 512.4,217.7 514.6,216.6 516.8,215.4 518.9,214.3 521.1,213.1 523.3,211.9 525.4,210.7 527.5,209.4 529.6,208.1 531.7,206.7 533.7,205.4 535.8,204.1 537.8,202.8 539.8,201.5 541.7,200.2 543.7,198.9 545.7,197.6 547.7,196.4 549.8,195.2 551.9,194.0 554.0,192.9 556.1,191.5 558.3,190.1 560.5,188.7 562.6,187.4 564.6,185.7 566.4,184.0 568.3,182.3 570.2,180.6 572.1,178.9 573.9,177.3 575.7,175.6 577.4,173.8 579.2,172.0 580.9,170.1 582.5,168.2 584.1,166.4 585.7,164.5 587.3,162.6 588.9,160.6 590.6,158.6 592.3,156.7 593.9,154.7 595.0,152.4 596.1,150.0 597.3,147.7 598.4,145.4 599.5,143.3 600.5,141.2 601.6,139.0 602.7,136.8 603.8,134.6 604.9,132.4 606.0,130.2 607.0,127.9 608.1,125.5 609.0,123.1 609.8,120.6 610.7,118.1 611.2,115.5 611.7,112.9 612.1,110.4 612.4,107.8 612.7,105.4 612.9,102.8 613.1,100.1 613.3,97.5 613.6,94.8 613.3,92.1 612.9,89.2 612.1,86.2 611.1,83.1 610.0,80.1 608.3,77.9 606.3,76.0 603.9,74.4 601.1,73.0 595.4,80.6 596.7,81.8 597.5,83.6 598.0,85.7 597.9,88.1 596.3,90.2 594.5,91.8 594.0,92.9 593.2,94.2 592.5,95.9 591.3,97.5 590.2,99.1 589.9,100.9 589.7,102.7 589.3,104.9 589.0,106.8 588.5,108.5 588.1,110.2 587.9,112.0 587.4,113.6 587.0,115.3 586.5,117.1 585.9,118.8 585.1,120.8 584.2,122.7 583.2,124.7 582.2,126.8 581.2,128.8 580.2,131.0 579.1,133.2 578.0,135.4 577.2,137.2 576.4,138.9 575.7,140.6 575.0,142.5 573.9,144.0 572.7,145.5 571.5,147.0 570.5,148.5 569.2,150.3 567.8,152.2 566.4,154.0 565.1,155.7 563.7,157.4 562.4,159.0 561.0,160.6 559.5,162.2 557.9,163.8 556.3,165.4 554.8,166.8 553.4,168.3 552.0,169.8 550.5,171.3 548.8,172.5 547.1,173.6 545.6,174.8 543.8,176.0 541.8,177.2 539.7,178.5 537.7,179.8 535.6,181.1 533.6,182.6 531.5,184.0 529.5,185.5 527.5,186.9 525.5,188.3 523.6,189.7 521.8,191.0 519.9,192.4 518.0,193.7 516.1,195.0 514.2,196.2 512.3,197.3 510.4,198.5 508.4,199.7 506.4,200.9 504.3,202.1 502.3,203.2 500.3,204.4 498.3,205.6 496.3,206.8 494.3,207.9 492.3,208.9 490.3,210.0 488.2,210.9 486.1,211.9 483.9,212.9 481.6,213.9 479.3,214.9 477.0,215.9 474.7,217.1 472.4,218.4 469.9,219.7 467.5,221.1 465.2,222.4 462.9,223.8 460.8,225.4 458.8,227.0 456.8,228.6 454.7,230.2 452.8,231.6 450.9,233.0 448.9,234.4 446.9,235.7 444.9,237.1 442.9,238.5 440.9,239.9 438.9,241.3 436.8,242.6 434.8,244.0 432.7,245.4 430.7,246.7 428.6,248.2 426.5,249.6 424.5,251.0 422.4,252.5 420.5,254.2 418.6,255.9 416.8,257.6 414.9,259.3 413.1,261.0 411.3,262.7 409.5,264.3 407.8,266.0 406.1,267.6 404.5,269.2 402.7,270.7 401.0,272.2 399.2,273.7 397.5,275.2 395.8,276.8 394.0,278.4 392.3,280.1 390.5,281.7 388.8,283.4 387.0,285.1 385.2,286.7 383.4,288.4 381.6,290.1 379.8,291.9 378.0,293.7 376.2,295.5 374.4,297.3 372.7,299.1 371.0,301.0 369.4,302.9 367.7,304.8 366.1,306.6 364.5,308.4 362.9,310.2 361.4,312.0 359.8,313.7 358.3,315.5 356.8,317.2 355.2,318.9 353.5,320.5 351.8,322.2 350.1,323.9 348.4,325.7 346.7,327.5 345.0,329.4 343.3,331.2 341.6,333.1 340.0,335.0 338.3,336.9 336.7,338.7 335.0,340.6 333.5,342.5 332.0,344.4 330.5,346.3 329.0,348.1 327.5,349.9 326.0,351.7 324.4,353.4 322.9,355.1 321.3,356.9 319.7,358.7 318.1,360.5 316.5,362.3 314.9,364.1 313.2,366.0 311.6,367.9 309.9,369.7 308.3,371.7 306.8,373.6 305.2,375.6 303.6,377.6 302.1,379.5 300.6,381.4 299.1,383.3 297.7,385.2 296.3,387.0 294.9,388.9 293.5,390.7 292.0,392.5 290.5,394.2 289.0,395.9 287.5,397.6 286.0,399.4 284.4,401.1 282.8,402.8 281.1,404.6 279.3,406.5 277.6,408.3 275.8,410.2 274.3,412.2 272.9,414.2 271.5,416.1 270.1,418.1 268.7,419.8 267.1,421.4 265.5,423.1 263.9,424.8 262.2,426.5 260.6,428.5 259.0,430.5 257.4,432.5 255.8,434.5 254.3,436.4 252.8,438.4 251.4,440.3 249.9,442.2 248.5,444.1 247.0,446.0 245.5,448.0 244.0,449.9 242.4,451.9 240.9,453.9 239.6,455.9 238.2,458.0 236.8,460.1 235.4,462.1 234.1,464.1 232.8,466.0 231.5,468.0 230.3,469.9 229.0,471.9 227.7,473.8 226.4,475.7 225.0,477.6 223.7,479.5 222.3,481.5 220.9,483.4 219.4,485.4 218.0,487.3 216.6,489.2 215.1,491.2 213.7,493.1 212.3,495.1 210.8,497.0 209.4,499.0 207.9,501.0 206.4,503.0 204.9,505.0 203.5,507.0 202.0,509.0 200.6,511.1 199.1,513.1 197.6,515.1 196.2,517.0 194.7,519.0 193.4,521.0 192.1,522.9 190.7,524.9 189.4,526.8 188.0,528.8 186.5,530.7 185.1,532.7 183.8,534.6 182.5,536.8 181.2,539.0 179.9,541.1 178.6,543.4 177.3,545.6 176.1,547.9 174.8,550.4 173.5,553.0 172.5,555.7 171.6,557.7 171.1,559.7 171.0,561.7 170.9,563.7 169.5,565.0 168.1,566.1 166.8,567.2 165.4,568.5 163.6,570.2 161.7,572.1 160.2,574.1 158.7,576.1 157.2,578.1 155.7,580.1 154.1,582.1 152.6,583.9 151.0,585.8 149.4,587.7 147.9,589.9 146.5,592.1 145.0,594.2 143.5,596.5 142.3,598.8 141.1,601.1 139.8,603.4 138.7,605.7 137.7,608.0 136.6,610.3 135.6,612.7 134.5,615.0 133.5,617.3 132.5,619.7 131.7,622.1 130.9,624.5 130.1,626.9 129.4,629.3 128.6,631.6 127.9,633.9 127.2,636.2 126.4,638.5 125.7,640.8 125.0,643.0" fill="#2480b2"/>
<polygon points="139.9,647.8 140.6,645.5 141.4,643.3 142.1,641.0 142.8,638.7 143.6,636.4 144.3,634.1 145.0,631.9 145.7,629.7 146.4,627.5 147.2,625.3 148.1,623.2 149.1,621.0 150.0,618.9 150.9,616.9 151.9,614.7 152.8,612.6 153.8,610.5 154.9,608.5 156.0,606.5 157.1,604.5 158.3,602.6 159.5,600.8 160.8,598.9 162.0,597.0 163.5,595.2 165.0,593.3 166.6,591.5 168.1,589.7 169.4,587.8 170.8,585.9 172.1,584.0 173.5,582.1 175.1,580.5 176.8,578.9 178.7,576.9 180.7,574.9 182.6,572.8 184.3,570.8 184.7,568.1 185.0,565.5 185.6,563.0 186.6,560.7 187.4,558.8 188.4,556.9 189.4,555.0 190.6,553.1 191.7,551.1 192.9,549.1 194.1,547.2 195.3,545.2 196.6,543.2 198.0,541.3 199.4,539.4 200.8,537.4 202.2,535.4 203.5,533.4 204.8,531.3 206.1,529.2 207.3,527.2 208.7,525.2 210.0,523.3 211.3,521.3 212.6,519.4 213.9,517.4 215.3,515.5 216.6,513.5 218.0,511.7 219.5,509.9 220.9,508.0 222.4,506.2 223.9,504.3 225.4,502.4 226.9,500.6 228.4,498.7 229.9,496.8 231.4,495.0 232.9,493.1 234.4,491.2 235.9,489.3 237.4,487.5 238.9,485.5 240.5,483.6 242.0,481.7 243.5,479.7 244.9,477.7 246.3,475.7 247.7,473.7 249.1,471.7 250.5,469.8 251.8,467.9 253.2,465.9 254.5,464.0 256.0,462.2 257.4,460.3 258.9,458.5 260.4,456.7 261.9,454.8 263.4,452.9 264.9,451.0 266.4,449.1 267.8,447.2 269.3,445.4 270.8,443.6 272.2,441.8 273.7,440.0 275.2,438.2 276.9,436.5 278.6,434.8 280.3,433.0 282.1,431.2 283.6,429.3 285.0,427.4 286.5,425.4 287.9,423.5 289.3,421.6 290.9,420.0 292.5,418.3 294.1,416.6 295.8,414.9 297.5,413.2 299.1,411.4 300.7,409.5 302.3,407.7 304.0,405.8 305.6,404.0 307.2,402.1 308.7,400.2 310.2,398.3 311.7,396.3 313.2,394.4 314.7,392.5 316.2,390.7 317.7,388.8 319.1,387.0 320.6,385.1 322.1,383.3 323.6,381.5 325.2,379.8 326.8,378.0 328.3,376.3 329.9,374.5 331.6,372.8 333.2,371.0 334.8,369.2 336.5,367.4 338.1,365.6 339.8,363.8 341.4,362.0 343.0,360.2 344.5,358.3 346.0,356.4 347.6,354.6 349.1,352.8 350.7,351.0 352.2,349.3 353.8,347.5 355.4,345.8 357.0,344.0 358.6,342.3 360.2,340.6 361.8,338.9 363.5,337.2 365.2,335.6 367.0,333.9 368.7,332.2 370.5,330.5 372.1,328.7 373.8,326.9 375.4,325.1 377.1,323.3 378.7,321.5 380.3,319.8 381.9,318.0 383.5,316.3 385.1,314.5 386.7,312.8 388.4,311.1 390.1,309.5 391.8,307.9 393.4,306.3 395.1,304.6 396.9,303.0 398.7,301.4 400.4,299.9 402.2,298.3 404.0,296.7 405.8,295.0 407.5,293.4 409.3,291.8 411.1,290.2 413.0,288.6 414.8,286.9 416.6,285.3 418.4,283.6 420.1,281.9 421.8,280.1 423.5,278.4 425.2,276.7 426.9,275.0 428.5,273.3 430.2,271.7 431.9,270.1 433.6,268.5 435.3,266.9 437.1,265.4 438.9,263.8 440.7,262.3 442.5,260.8 444.3,259.3 446.2,257.7 448.0,256.2 449.8,254.7 451.7,253.2 453.6,251.7 455.4,250.3 457.3,248.8 459.2,247.3 461.1,245.8 462.9,244.3 464.8,242.8 466.6,241.3 468.4,239.9 470.2,238.4 472.0,237.0 473.9,235.9 475.8,234.7 477.7,233.6 479.6,232.6 481.7,231.6 483.7,230.6 485.8,229.7 488.0,228.9 490.2,228.0 492.4,227.1 494.7,226.2 497.0,225.2 499.2,224.2 501.5,223.2 503.7,222.1 505.9,221.0 508.1,219.9 510.3,218.8 512.4,217.7 514.6,216.6 516.8,215.4 518.9,214.3 521.1,213.1 523.3,211.9 525.4,210.7 527.5,209.4 529.6,208.1 531.7,206.7 533.7,205.4 535.8,204.1 537.8,202.8 539.8,201.5 541.7,200.2 543.7,198.9 545.7,197.6 547.7,196.4 549.8,195.2 551.9,194.0 554.0,192.9 556.1,191.5 558.3,190.1 560.5,188.7 562.6,187.4 564.6,185.7 566.4,184.0 568.3,182.3 570.2,180.6 572.1,178.9 573.9,177.3 575.7,175.6 577.4,173.8 579.2,172.0 580.9,170.1 582.5,168.2 584.1,166.4 585.7,164.5 587.3,162.6 588.9,160.6 590.6,158.6 592.3,156.7 593.9,154.7 595.0,152.4 596.1,150.0 597.3,147.7 598.4,145.4 599.5,143.3 600.5,141.2 601.6,139.0 602.7,136.8 603.8,134.6 604.9,132.4 606.0,130.2 607.0,127.9 608.1,125.5 609.0,123.1 609.8,120.6 610.7,118.1 611.2,115.5 611.7,112.9 612.1,110.4 612.4,107.8 612.7,105.4 612.9,102.8 613.1,100.1 613.3,97.5 613.6,94.8 613.3,92.1 612.9,89.2 612.1,86.2 611.1,83.1 610.0,80.1 608.3,77.9 606.3,76.0 603.9,74.4 601.1,73.0 595.5,80.4 596.8,81.7 597.6,83.5 598.2,85.6 598.1,88.0 596.6,90.1 595.0,91.6 594.4,92.8 593.7,94.1 593.1,95.9 591.9,97.5 590.8,99.2 590.6,101.0 590.3,102.7 590.0,105.0 589.7,106.9 589.3,108.7 588.8,110.4 588.6,112.2 588.2,113.9 587.8,115.6 587.3,117.4 586.7,119.2 586.0,121.2 585.0,123.1 584.0,125.1 583.0,127.2 582.0,129.2 581.0,131.4 579.9,133.6 578.8,135.8 578.0,137.6 577.2,139.3 576.4,141.1 575.8,143.0 574.7,144.6 573.4,146.0 572.3,147.5 571.2,149.0 569.9,150.9 568.5,152.8 567.1,154.6 565.8,156.3 564.4,158.0 563.0,159.6 561.6,161.2 560.1,162.8 558.5,164.5 556.8,166.0 555.4,167.4 553.9,168.9 552.5,170.5 551.0,172.0 549.3,173.1 547.6,174.3 546.0,175.4 544.2,176.6 542.2,177.9 540.1,179.1 538.0,180.4 536.0,181.7 534.0,183.2 531.9,184.7 529.9,186.1 527.9,187.5 525.9,188.9 524.0,190.3 522.2,191.7 520.3,193.0 518.4,194.4 516.5,195.6 514.6,196.8 512.7,198.0 510.7,199.2 508.8,200.4 506.7,201.5 504.7,202.7 502.6,203.9 500.7,205.1 498.7,206.3 496.7,207.5 494.7,208.6 492.6,209.7 490.6,210.8 488.6,211.8 486.5,212.7 484.2,213.7 482.0,214.7 479.7,215.7 477.3,216.7 475.1,217.9 472.8,219.2 470.4,220.5 468.0,221.9 465.7,223.3 463.5,224.6 461.4,226.3 459.4,227.9 457.4,229.5 455.5,231.1 453.6,232.6 451.6,234.0 449.7,235.3 447.7,236.7 445.7,238.1 443.7,239.5 441.7,240.9 439.7,242.3 437.7,243.7 435.7,245.1 433.7,246.5 431.7,248.0 429.7,249.4 427.7,250.9 425.6,252.4 423.6,253.9 421.7,255.5 419.9,257.2 418.0,258.9 416.1,260.6 414.3,262.3 412.5,264.0 410.8,265.6 409.1,267.2 407.4,268.8 405.7,270.5 404.0,272.0 402.2,273.5 400.4,275.0 398.7,276.5 397.0,278.1 395.3,279.8 393.5,281.4 391.8,283.1 390.0,284.7 388.2,286.4 386.4,288.1 384.6,289.8 382.9,291.5 381.1,293.2 379.3,295.0 377.5,296.9 375.7,298.7 374.0,300.5 372.4,302.3 370.7,304.2 369.1,306.1 367.5,307.9 365.9,309.7 364.3,311.5 362.8,313.3 361.2,315.0 359.7,316.8 358.2,318.5 356.6,320.2 354.9,321.9 353.2,323.6 351.5,325.3 349.8,327.0 348.1,328.9 346.4,330.7 344.7,332.6 343.1,334.4 341.4,336.3 339.8,338.2 338.1,340.0 336.5,341.9 335.0,343.8 333.5,345.7 332.0,347.5 330.5,349.4 329.0,351.2 327.4,353.0 325.9,354.7 324.3,356.4 322.8,358.2 321.2,360.0 319.6,361.8 318.0,363.6 316.3,365.4 314.7,367.3 313.0,369.2 311.4,371.0 309.8,372.9 308.2,374.9 306.7,376.8 305.1,378.8 303.6,380.7 302.1,382.6 300.6,384.5 299.2,386.3 297.7,388.2 296.3,390.0 294.9,391.9 293.3,393.6 291.8,395.4 290.3,397.1 288.8,398.8 287.3,400.5 285.7,402.3 284.1,404.0 282.3,405.8 280.6,407.6 278.8,409.4 277.1,411.3 275.5,413.3 274.1,415.2 272.8,417.2 271.4,419.1 269.9,420.9 268.3,422.5 266.7,424.2 265.1,425.8 263.4,427.6 261.7,429.5 260.1,431.4 258.6,433.4 257.0,435.4 255.5,437.4 254.0,439.3 252.5,441.2 251.1,443.1 249.6,445.0 248.1,446.9 246.6,448.8 245.1,450.8 243.5,452.7 242.0,454.7 240.6,456.7 239.2,458.8 237.8,460.8 236.4,462.9 235.1,464.8 233.8,466.7 232.5,468.7 231.3,470.7 230.0,472.6 228.6,474.5 227.3,476.4 225.9,478.3 224.5,480.2 223.1,482.2 221.7,484.1 220.3,486.0 218.8,488.0 217.4,489.9 215.9,491.8 214.5,493.7 213.0,495.7 211.6,497.6 210.1,499.6 208.6,501.6 207.1,503.6 205.7,505.6 204.2,507.6 202.7,509.6 201.3,511.5 199.8,513.6 198.3,515.5 196.9,517.5 195.4,519.5 194.1,521.4 192.7,523.4 191.4,525.3 190.1,527.3 188.6,529.2 187.1,531.1 185.7,533.1 184.3,535.0 183.0,537.1 181.7,539.3 180.4,541.5 179.1,543.7 177.8,545.9 176.6,548.2 175.3,550.6 174.0,553.2 172.9,555.8 172.1,557.8 171.5,559.9 171.4,561.9 171.3,563.9 169.9,565.2 168.5,566.4 167.1,567.5 165.7,568.8 163.9,570.5 162.1,572.4 160.5,574.3 159.1,576.4 157.6,578.4 156.1,580.4 154.5,582.3 152.9,584.2 151.4,586.1 149.8,588.0 148.3,590.1 146.8,592.3 145.4,594.5 143.9,596.7 142.7,599.0 141.4,601.3 140.2,603.6 139.1,605.9 138.1,608.2 137.0,610.4 135.9,612.8 134.9,615.2 133.9,617.5 132.9,619.8 132.1,622.2 131.3,624.6 130.5,627.0 129.7,629.4 129.0,631.7 128.3,634.0 127.5,636.3 126.8,638.6 126.1,640.9 125.3,643.2" fill="#1d61b0"/>
<polygon points="139.9,647.8 140.6,645.5 141.4,643.3 142.1,641.0 142.8,638.7 143.6,636.4 144.3,634.1 145.0,631.9 145.7,629.7 146.4,627.5 147.2,625.3 148.1,623.2 149.1,621.0 150.0,618.9 150.9,616.9 151.9,614.7 152.8,612.6 153.8,610.5 154.9,608.5 156.0,606.5 157.1,604.5 158.3,602.6 159.5,600.8 160.8,598.9 162.0,597.0 163.5,595.2 165.0,593.3 166.6,591.5 168.1,589.7 169.4,587.8 170.8,585.9 172.1,584.0 173.5,582.1 175.1,580.5 176.8,578.9 178.7,576.9 180.7,574.9 182.6,572.8 184.3,570.8 184.7,568.1 185.0,565.5 185.6,563.0 186.6,560.7 187.4,558.8 188.4,556.9 189.4,555.0 190.6,553.1 191.7,551.1 192.9,549.1 194.1,547.2 195.3,545.2 196.6,543.2 198.0,541.3 199.4,539.4 200.8,537.4 202.2,535.4 203.5,533.4 204.8,531.3 206.1,529.2 207.3,527.2 208.7,525.2 210.0,523.3 211.3,521.3 212.6,519.4 213.9,517.4 215.3,515.5 216.6,513.5 218.0,511.7 219.5,509.9 220.9,508.0 222.4,506.2 223.9,504.3 225.4,502.4 226.9,500.6 228.4,498.7 229.9,496.8 231.4,495.0 232.9,493.1 234.4,491.2 235.9,489.3 237.4,487.5 238.9,485.5 240.5,483.6 242.0,481.7 243.5,479.7 244.9,477.7 246.3,475.7 247.7,473.7 249.1,471.7 250.5,469.8 251.8,467.9 253.2,465.9 254.5,464.0 256.0,462.2 257.4,460.3 258.9,458.5 260.4,456.7 261.9,454.8 263.4,452.9 264.9,451.0 266.4,449.1 267.8,447.2 269.3,445.4 270.8,443.6 272.2,441.8 273.7,440.0 275.2,438.2 276.9,436.5 278.6,434.8 280.3,433.0 282.1,431.2 283.6,429.3 285.0,427.4 286.5,425.4 287.9,423.5 289.3,421.6 290.9,420.0 292.5,418.3 294.1,416.6 295.8,414.9 297.5,413.2 299.1,411.4 300.7,409.5 302.3,407.7 304.0,405.8 305.6,404.0 307.2,402.1 308.7,400.2 310.2,398.3 311.7,396.3 313.2,394.4 314.7,392.5 316.2,390.7 317.7,388.8 319.1,387.0 320.6,385.1 322.1,383.3 323.6,381.5 325.2,379.8 326.8,378.0 328.3,376.3 329.9,374.5 331.6,372.8 333.2,371.0 334.8,369.2 336.5,367.4 338.1,365.6 339.8,363.8 341.4,362.0 343.0,360.2 344.5,358.3 346.0,356.4 347.6,354.6 349.1,352.8 350.7,351.0 352.2,349.3 353.8,347.5 355.4,345.8 357.0,344.0 358.6,342.3 360.2,340.6 361.8,338.9 363.5,337.2 365.2,335.6 367.0,333.9 368.7,332.2 370.5,330.5 372.1,328.7 373.8,326.9 375.4,325.1 377.1,323.3 378.7,321.5 380.3,319.8 381.9,318.0 383.5,316.3 385.1,314.5 386.7,312.8 388.4,311.1 390.1,309.5 391.8,307.9 393.4,306.3 395.1,304.6 396.9,303.0 398.7,301.4 400.4,299.9 402.2,298.3 404.0,296.7 405.8,295.0 407.5,293.4 409.3,291.8 411.1,290.2 413.0,288.6 414.8,286.9 416.6,285.3 418.4,283.6 420.1,281.9 421.8,280.1 423.5,278.4 425.2,276.7 426.9,275.0 428.5,273.3 430.2,271.7 431.9,270.1 433.6,268.5 435.3,266.9 437.1,265.4 438.9,263.8 440.7,262.3 442.5,260.8 444.3,259.3 446.2,257.7 448.0,256.2 449.8,254.7 451.7,253.2 453.6,251.7 455.4,250.3 457.3,248.8 459.2,247.3 461.1,245.8 462.9,244.3 464.8,242.8 466.6,241.3 468.4,239.9 470.2,238.4 472.0,237.0 473.9,235.9 475.8,234.7 477.7,233.6 479.6,232.6 481.7,231.6 483.7,230.6 485.8,229.7 488.0,228.9 490.2,228.0 492.4,227.1 494.7,226.2 497.0,225.2 499.2,224.2 501.5,223.2 503.7,222.1 505.9,221.0 508.1,219.9 510.3,218.8 512.4,217.7 514.6,216.6 516.8,215.4 518.9,214.3 521.1,213.1 523.3,211.9 525.4,210.7 527.5,209.4 529.6,208.1 531.7,206.7 533.7,205.4 535.8,204.1 537.8,202.8 539.8,201.5 541.7,200.2 543.7,198.9 545.7,197.6 547.7,196.4 549.8,195.2 551.9,194.0 554.0,192.9 556.1,191.5 558.3,190.1 560.5,188.7 562.6,187.4 564.6,185.7 566.4,184.0 568.3,182.3 570.2,180.6 572.1,178.9 573.9,177.3 575.7,175.6 577.4,173.8 579.2,172.0 580.9,170.1 582.5,168.2 584.1,166.4 585.7,164.5 587.3,162.6 588.9,160.6 590.6,158.6 592.3,156.7 593.9,154.7 595.0,152.4 596.1,150.0 597.3,147.7 598.4,145.4 599.5,143.3 600.5,141.2 601.6,139.0 602.7,136.8 603.8,134.6 604.9,132.4 606.0,130.2 607.0,127.9 608.1,125.5 609.0,123.1 609.8,120.6 610.7,118.1 611.2,115.5 611.7,112.9 612.1,110.4 612.4,107.8 612.7,105.4 612.9,102.8 613.1,100.1 613.3,97.5 613.6,94.8 613.3,92.1 612.9,89.2 612.1,86.2 611.1,83.1 610.0,80.1 608.3,77.9 606.3,76.0 603.9,74.4 601.1,73.0 595.6,80.3 597.0,81.6 597.8,83.4 598.4,85.5 598.3,87.8 596.9,89.9 595.3,91.5 594.8,92.7 594.1,94.1 593.5,95.8 592.3,97.5 591.2,99.2 591.0,101.0 590.7,102.8 590.4,105.0 590.1,106.9 589.6,108.7 589.2,110.5 589.0,112.3 588.6,114.0 588.2,115.8 587.7,117.6 587.1,119.3 586.4,121.4 585.5,123.3 584.5,125.3 583.5,127.4 582.5,129.4 581.4,131.6 580.3,133.8 579.3,136.0 578.4,137.9 577.6,139.5 576.8,141.3 576.2,143.2 575.1,144.8 573.8,146.3 572.6,147.8 571.5,149.4 570.2,151.2 568.8,153.1 567.4,154.9 566.1,156.6 564.7,158.3 563.3,159.9 561.9,161.6 560.4,163.1 558.8,164.8 557.2,166.4 555.7,167.8 554.2,169.3 552.8,170.9 551.3,172.4 549.6,173.5 547.9,174.7 546.2,175.9 544.5,177.1 542.4,178.3 540.4,179.6 538.3,180.9 536.3,182.2 534.2,183.6 532.2,185.1 530.2,186.6 528.2,188.0 526.2,189.4 524.3,190.8 522.5,192.1 520.6,193.5 518.7,194.9 516.8,196.1 514.9,197.3 512.9,198.5 511.0,199.7 509.0,200.9 507.0,202.1 505.0,203.3 503.0,204.6 501.0,205.8 499.0,207.1 497.1,208.3 495.1,209.5 493.1,210.6 491.0,211.7 489.0,212.8 486.9,213.8 484.7,214.8 482.5,215.8 480.2,216.8 477.8,217.8 475.6,219.0 473.3,220.3 470.9,221.5 468.6,222.9 466.4,224.3 464.2,225.7 462.2,227.3 460.2,228.9 458.3,230.5 456.3,232.1 454.4,233.6 452.5,235.1 450.5,236.4 448.6,237.8 446.6,239.2 444.6,240.6 442.6,242.0 440.6,243.4 438.6,244.8 436.6,246.2 434.7,247.7 432.7,249.1 430.7,250.6 428.7,252.1 426.7,253.6 424.7,255.1 422.8,256.7 421.0,258.4 419.1,260.1 417.3,261.8 415.5,263.5 413.7,265.2 412.0,266.8 410.3,268.5 408.6,270.1 406.9,271.7 405.2,273.3 403.4,274.8 401.7,276.3 399.9,277.9 398.2,279.5 396.4,281.1 394.7,282.8 392.9,284.4 391.2,286.0 389.4,287.7 387.6,289.4 385.8,291.1 384.0,292.7 382.3,294.5 380.5,296.3 378.7,298.1 377.0,299.8 375.2,301.6 373.6,303.5 372.0,305.4 370.3,307.2 368.7,309.1 367.1,310.9 365.5,312.7 364.0,314.4 362.4,316.2 360.9,317.9 359.4,319.7 357.7,321.4 356.0,323.0 354.3,324.7 352.6,326.4 350.9,328.2 349.2,330.0 347.5,331.8 345.9,333.7 344.2,335.5 342.6,337.4 341.0,339.2 339.3,341.1 337.7,342.9 336.2,344.8 334.7,346.7 333.1,348.6 331.7,350.4 330.2,352.2 328.6,354.0 327.1,355.8 325.5,357.5 323.9,359.3 322.3,361.0 320.7,362.8 319.1,364.6 317.5,366.5 315.8,368.3 314.2,370.2 312.6,372.0 311.0,373.9 309.4,375.9 307.9,377.8 306.3,379.7 304.8,381.6 303.3,383.5 301.8,385.4 300.4,387.3 298.9,389.1 297.5,391.0 296.0,392.8 294.5,394.6 292.9,396.3 291.4,398.1 289.9,399.8 288.4,401.5 286.8,403.3 285.1,405.0 283.4,406.8 281.7,408.6 279.9,410.4 278.2,412.2 276.6,414.2 275.2,416.1 273.9,418.1 272.5,420.0 271.0,421.8 269.4,423.4 267.8,425.1 266.1,426.8 264.4,428.5 262.8,430.4 261.2,432.4 259.6,434.3 258.1,436.3 256.5,438.2 255.1,440.1 253.6,442.0 252.1,443.9 250.7,445.8 249.2,447.7 247.6,449.6 246.1,451.6 244.6,453.5 243.1,455.5 241.7,457.5 240.3,459.5 238.9,461.6 237.5,463.6 236.1,465.5 234.8,467.5 233.5,469.4 232.3,471.4 230.9,473.3 229.6,475.2 228.2,477.1 226.8,479.0 225.4,480.9 224.0,482.9 222.6,484.8 221.1,486.7 219.7,488.6 218.2,490.6 216.8,492.5 215.3,494.4 213.9,496.3 212.4,498.3 210.9,500.2 209.4,502.2 207.9,504.2 206.5,506.2 205.0,508.1 203.5,510.1 202.1,512.1 200.6,514.1 199.2,516.1 197.7,518.0 196.3,520.0 194.9,522.0 193.6,523.9 192.2,525.9 190.9,527.8 189.4,529.7 188.0,531.7 186.6,533.6 185.1,535.5 183.8,537.6 182.5,539.8 181.2,541.9 179.8,544.1 178.6,546.4 177.3,548.6 176.0,551.0 174.8,553.5 173.7,556.1 172.8,558.1 172.3,560.2 172.1,562.3 172.0,564.3 170.6,565.7 169.2,566.8 167.8,568.1 166.4,569.4 164.6,571.1 162.8,572.9 161.2,574.9 159.8,576.9 158.3,578.9 156.8,581.0 155.2,582.9 153.6,584.7 152.1,586.6 150.5,588.5 149.1,590.7 147.6,592.8 146.1,595.0 144.7,597.2 143.5,599.5 142.2,601.7 141.0,604.0 139.9,606.3 138.9,608.6 137.9,610.8 136.8,613.2 135.8,615.5 134.8,617.8 133.7,620.1 132.9,622.5 132.2,624.9 131.4,627.3 130.6,629.7 129.9,632.0 129.2,634.3 128.4,636.6 127.7,638.9 127.0,641.2 126.2,643.4" fill="#1844a9"/>
<polygon points="139.9,647.8 140.6,645.5 141.4,643.3 142.1,641.0 142.8,638.7 143.6,636.4 144.3,634.1 145.0,631.9 145.7,629.7 146.4,627.5 147.2,625.3 148.1,623.2 149.1,621.0 150.0,618.9 150.9,616.9 151.9,614.7 152.8,612.6 153.8,610.5 154.9,608.5 156.0,606.5 157.1,604.5 158.3,602.6 159.5,600.8 160.8,598.9 162.0,597.0 163.5,595.2 165.0,593.3 166.6,591.5 168.1,589.7 169.4,587.8 170.8,585.9 172.1,584.0 173.5,582.1 175.1,580.5 176.8,578.9 178.7,576.9 180.7,574.9 182.6,572.8 184.3,570.8 184.7,568.1 185.0,565.5 185.6,563.0 186.6,560.7 187.4,558.8 188.4,556.9 189.4,555.0 190.6,553.1 191.7,551.1 192.9,549.1 194.1,547.2 195.3,545.2 196.6,543.2 198.0,541.3 199.4,539.4 200.8,537.4 202.2,535.4 203.5,533.4 204.8,531.3 206.1,529.2 207.3,527.2 208.7,525.2 210.0,523.3 211.3,521.3 212.6,519.4 213.9,517.4 215.3,515.5 216.6,513.5 218.0,511.7 219.5,509.9 220.9,508.0 222.4,506.2 223.9,504.3 225.4,502.4 226.9,500.6 228.4,498.7 229.9,496.8 231.4,495.0 232.9,493.1 234.4,491.2 235.9,489.3 237.4,487.5 238.9,485.5 240.5,483.6 242.0,481.7 243.5,479.7 244.9,477.7 246.3,475.7 247.7,473.7 249.1,471.7 250.5,469.8 251.8,467.9 253.2,465.9 254.5,464.0 256.0,462.2 257.4,460.3 258.9,458.5 260.4,456.7 261.9,454.8 263.4,452.9 264.9,451.0 266.4,449.1 267.8,447.2 269.3,445.4 270.8,443.6 272.2,441.8 273.7,440.0 275.2,438.2 276.9,436.5 278.6,434.8 280.3,433.0 282.1,431.2 283.6,429.3 285.0,427.4 286.5,425.4 287.9,423.5 289.3,421.6 290.9,420.0 292.5,418.3 294.1,416.6 295.8,414.9 297.5,413.2 299.1,411.4 300.7,409.5 302.3,407.7 304.0,405.8 305.6,404.0 307.2,402.1 308.7,400.2 310.2,398.3 311.7,396.3 313.2,394.4 314.7,392.5 316.2,390.7 317.7,388.8 319.1,387.0 320.6,385.1 322.1,383.3 323.6,381.5 325.2,379.8 326.8,378.0 328.3,376.3 329.9,374.5 331.6,372.8 333.2,371.0 334.8,369.2 336.5,367.4 338.1,365.6 339.8,363.8 341.4,362.0 343.0,360.2 344.5,358.3 346.0,356.4 347.6,354.6 349.1,352.8 350.7,351.0 352.2,349.3 353.8,347.5 355.4,345.8 357.0,344.0 358.6,342.3 360.2,340.6 361.8,338.9 363.5,337.2 365.2,335.6 367.0,333.9 368.7,332.2 370.5,330.5 372.1,328.7 373.8,326.9 375.4,325.1 377.1,323.3 378.7,321.5 380.3,319.8 381.9,318.0 383.5,316.3 385.1,314.5 386.7,312.8 388.4,311.1 390.1,309.5 391.8,307.9 393.4,306.3 395.1,304.6 396.9,303.0 398.7,301.4 400.4,299.9 402.2,298.3 404.0,296.7 405.8,295.0 407.5,293.4 409.3,291.8 411.1,290.2 413.0,288.6 414.8,286.9 416.6,285.3 418.4,283.6 420.1,281.9 421.8,280.1 423.5,278.4 425.2,276.7 426.9,275.0 428.5,273.3 430.2,271.7 431.9,270.1 433.6,268.5 435.3,266.9 437.1,265.4 438.9,263.8 440.7,262.3 442.5,260.8 444.3,259.3 446.2,257.7 448.0,256.2 449.8,254.7 451.7,253.2 453.6,251.7 455.4,250.3 457.3,248.8 459.2,247.3 461.1,245.8 462.9,244.3 464.8,242.8 466.6,241.3 468.4,239.9 470.2,238.4 472.0,237.0 473.9,235.9 475.8,234.7 477.7,233.6 479.6,232.6 481.7,231.6 483.7,230.6 485.8,229.7 488.0,228.9 490.2,228.0 492.4,227.1 494.7,226.2 497.0,225.2 499.2,224.2 501.5,223.2 503.7,222.1 505.9,221.0 508.1,219.9 510.3,218.8 512.4,217.7 514.6,216.6 516.8,215.4 518.9,214.3 521.1,213.1 523.3,211.9 525.4,210.7 527.5,209.4 529.6,208.1 531.7,206.7 533.7,205.4 535.8,204.1 537.8,202.8 539.8,201.5 541.7,200.2 543.7,198.9 545.7,197.6 547.7,196.4 549.8,195.2 551.9,194.0 554.0,192.9 556.1,191.5 558.3,190.1 560.5,188.7 562.6,187.4 564.6,185.7 566.4,184.0 568.3,182.3 570.2,180.6 572.1,178.9 573.9,177.3 575.7,175.6 577.4,173.8 579.2,172.0 580.9,170.1 582.5,168.2 584.1,166.4 585.7,164.5 587.3,162.6 588.9,160.6 590.6,158.6 592.3,156.7 593.9,154.7 595.0,152.4 596.1,150.0 597.3,147.7 598.4,145.4 599.5,143.3 600.5,141.2 601.6,139.0 602.7,136.8 603.8,134.6 604.9,132.4 606.0,130.2 607.0,127.9 608.1,125.5 609.0,123.1 609.8,120.6 610.7,118.1 611.2,115.5 611.7,112.9 612.1,110.4 612.4,107.8 612.7,105.4 612.9,102.8 613.1,100.1 613.3,97.5 613.6,94.8 613.3,92.1 612.9,89.2 612.1,86.2 611.1,83.1 610.0,80.1 608.3,77.9 606.3,76.0 603.9,74.4 601.1,73.0 595.8,80.1 597.1,81.4 598.0,83.3 598.6,85.3 598.6,87.6 597.2,89.8 595.8,91.4 595.3,92.6 594.6,94.0 593.9,95.8 592.7,97.5 591.7,99.2 591.4,101.0 591.2,102.8 590.8,105.1 590.5,107.0 590.1,108.8 589.6,110.6 589.4,112.4 589.0,114.1 588.7,115.9 588.2,117.7 587.6,119.6 586.9,121.6 585.9,123.5 585.0,125.5 584.0,127.6 582.9,129.7 581.9,131.8 580.8,134.0 579.7,136.3 578.9,138.1 578.1,139.8 577.3,141.6 576.6,143.5 575.5,145.1 574.2,146.6 573.1,148.1 572.0,149.7 570.7,151.5 569.2,153.4 567.8,155.3 566.5,157.0 565.1,158.7 563.7,160.3 562.3,162.0 560.8,163.5 559.2,165.2 557.6,166.8 556.1,168.2 554.6,169.7 553.2,171.3 551.6,172.8 549.9,174.0 548.2,175.2 546.5,176.3 544.8,177.6 542.7,178.8 540.7,180.1 538.6,181.4 536.6,182.7 534.6,184.2 532.5,185.6 530.5,187.1 528.5,188.5 526.6,189.9 524.7,191.3 522.8,192.7 520.9,194.0 519.1,195.4 517.1,196.7 515.2,197.9 513.3,199.1 511.3,200.3 509.4,201.5 507.3,202.7 505.3,204.0 503.4,205.3 501.4,206.6 499.5,207.9 497.5,209.2 495.6,210.5 493.5,211.7 491.5,212.8 489.5,214.0 487.4,215.0 485.2,216.1 483.0,217.1 480.7,218.0 478.4,219.0 476.2,220.2 473.9,221.5 471.6,222.7 469.4,224.1 467.2,225.5 465.0,226.9 463.0,228.5 461.1,230.1 459.2,231.7 457.3,233.3 455.4,234.9 453.5,236.3 451.5,237.7 449.5,239.0 447.6,240.4 445.6,241.8 443.6,243.2 441.6,244.6 439.6,246.0 437.7,247.5 435.7,248.9 433.8,250.4 431.8,251.9 429.8,253.4 427.9,254.9 425.9,256.4 424.1,258.1 422.2,259.7 420.4,261.4 418.6,263.1 416.8,264.8 415.1,266.5 413.3,268.2 411.6,269.8 410.0,271.5 408.3,273.1 406.6,274.7 404.8,276.3 403.0,277.8 401.3,279.3 399.6,281.0 397.8,282.6 396.0,284.2 394.3,285.9 392.5,287.5 390.7,289.2 388.9,290.8 387.2,292.5 385.4,294.2 383.6,295.9 381.9,297.7 380.1,299.4 378.3,301.2 376.6,303.0 375.0,304.8 373.3,306.7 371.7,308.5 370.1,310.3 368.5,312.1 366.9,313.9 365.3,315.7 363.8,317.4 362.2,319.2 360.7,320.9 359.0,322.6 357.3,324.3 355.6,326.0 353.9,327.7 352.2,329.4 350.5,331.2 348.8,333.0 347.2,334.9 345.6,336.7 343.9,338.6 342.3,340.4 340.7,342.2 339.1,344.1 337.5,346.0 336.0,347.9 334.5,349.7 333.0,351.6 331.5,353.4 330.0,355.2 328.4,356.9 326.8,358.7 325.2,360.4 323.6,362.2 322.0,364.0 320.4,365.8 318.8,367.7 317.2,369.5 315.5,371.3 313.9,373.2 312.3,375.0 310.8,377.0 309.2,378.9 307.7,380.8 306.1,382.7 304.6,384.6 303.1,386.5 301.7,388.3 300.2,390.2 298.8,392.1 297.3,393.9 295.8,395.7 294.2,397.4 292.7,399.2 291.1,400.9 289.6,402.7 288.0,404.4 286.3,406.1 284.6,407.9 282.9,409.7 281.2,411.5 279.4,413.3 277.9,415.2 276.5,417.2 275.1,419.1 273.7,421.0 272.2,422.8 270.6,424.5 269.0,426.2 267.3,427.8 265.6,429.6 264.0,431.4 262.4,433.4 260.8,435.3 259.3,437.3 257.7,439.2 256.3,441.1 254.8,443.0 253.3,444.9 251.8,446.8 250.3,448.6 248.8,450.6 247.3,452.5 245.7,454.4 244.2,456.3 242.8,458.4 241.4,460.4 240.0,462.4 238.6,464.4 237.3,466.3 235.9,468.3 234.6,470.2 233.4,472.2 232.0,474.1 230.6,476.0 229.2,477.9 227.8,479.8 226.4,481.8 225.0,483.7 223.6,485.6 222.1,487.5 220.6,489.4 219.2,491.3 217.7,493.2 216.2,495.2 214.8,497.1 213.3,499.0 211.8,500.9 210.3,502.9 208.9,504.9 207.4,506.8 205.9,508.8 204.5,510.8 203.0,512.8 201.5,514.8 200.1,516.7 198.7,518.7 197.2,520.6 195.8,522.6 194.5,524.5 193.2,526.5 191.8,528.5 190.4,530.4 188.9,532.3 187.5,534.2 186.0,536.1 184.7,538.2 183.4,540.4 182.0,542.5 180.7,544.6 179.4,546.8 178.2,549.0 176.9,551.4 175.6,553.9 174.5,556.4 173.7,558.5 173.1,560.5 173.0,562.7 172.9,564.7 171.4,566.1 170.0,567.4 168.5,568.7 167.1,570.0 165.3,571.8 163.5,573.6 162.0,575.5 160.5,577.6 159.1,579.6 157.6,581.6 156.0,583.5 154.5,585.3 152.9,587.2 151.3,589.1 149.9,591.2 148.4,593.4 147.0,595.5 145.6,597.7 144.4,600.0 143.2,602.2 141.9,604.5 140.8,606.7 139.8,609.0 138.8,611.3 137.7,613.6 136.7,615.9 135.7,618.2 134.7,620.5 133.9,622.9 133.1,625.3 132.4,627.6 131.6,630.0 130.9,632.3 130.1,634.6 129.4,636.9 128.7,639.2 127.9,641.5 127.2,643.8" fill="#122c9d"/>
<polygon points="139.9,647.8 140.6,645.5 141.4,643.3 142.1,641.0 142.8,638.7 143.6,636.4 144.3,634.1 145.0,631.9 145.7,629.7 146.4,627.5 147.2,625.3 148.1,623.2 149.1,621.0 150.0,618.9 150.9,616.9 151.9,614.7 152.8,612.6 153.8,610.5 154.9,608.5 156.0,606.5 157.1,604.5 158.3,602.6 159.5,600.8 160.8,598.9 162.0,597.0 163.5,595.2 165.0,593.3 166.6,591.5 168.1,589.7 169.4,587.8 170.8,585.9 172.1,584.0 173.5,582.1 175.1,580.5 176.8,578.9 178.7,576.9 180.7,574.9 182.6,572.8 184.3,570.8 184.7,568.1 185.0,565.5 185.6,563.0 186.6,560.7 187.4,558.8 188.4,556.9 189.4,555.0 190.6,553.1 191.7,551.1 192.9,549.1 194.1,547.2 195.3,545.2 196.6,543.2 198.0,541.3 199.4,539.4 200.8,537.4 202.2,535.4 203.5,533.4 204.8,531.3 206.1,529.2 207.3,527.2 208.7,525.2 210.0,523.3 211.3,521.3 212.6,519.4 213.9,517.4 215.3,515.5 216.6,513.5 218.0,511.7 219.5,509.9 220.9,508.0 222.4,506.2 223.9,504.3 225.4,502.4 226.9,500.6 228.4,498.7 229.9,496.8 231.4,495.0 232.9,493.1 234.4,491.2 235.9,489.3 237.4,487.5 238.9,485.5 240.5,483.6 242.0,481.7 243.5,479.7 244.9,477.7 246.3,475.7 247.7,473.7 249.1,471.7 250.5,469.8 251.8,467.9 253.2,465.9 254.5,464.0 256.0,462.2 257.4,460.3 258.9,458.5 260.4,456.7 261.9,454.8 263.4,452.9 264.9,451.0 266.4,449.1 267.8,447.2 269.3,445.4 270.8,443.6 272.2,441.8 273.7,440.0 275.2,438.2 276.9,436.5 278.6,434.8 280.3,433.0 282.1,431.2 283.6,429.3 285.0,427.4 286.5,425.4 287.9,423.5 289.3,421.6 290.9,420.0 292.5,418.3 294.1,416.6 295.8,414.9 297.5,413.2 299.1,411.4 300.7,409.5 302.3,407.7 304.0,405.8 305.6,404.0 307.2,402.1 308.7,400.2 310.2,398.3 311.7,396.3 313.2,394.4 314.7,392.5 316.2,390.7 317.7,388.8 319.1,387.0 320.6,385.1 322.1,383.3 323.6,381.5 325.2,379.8 326.8,378.0 328.3,376.3 329.9,374.5 331.6,372.8 333.2,371.0 334.8,369.2 336.5,367.4 338.1,365.6 339.8,363.8 341.4,362.0 343.0,360.2 344.5,358.3 346.0,356.4 347.6,354.6 349.1,352.8 350.7,351.0 352.2,349.3 353.8,347.5 355.4,345.8 357.0,344.0 358.6,342.3 360.2,340.6 361.8,338.9 363.5,337.2 365.2,335.6 367.0,333.9 368.7,332.2 370.5,330.5 372.1,328.7 373.8,326.9 375.4,325.1 377.1,323.3 378.7,321.5 380.3,319.8 381.9,318.0 383.5,316.3 385.1,314.5 386.7,312.8 388.4,311.1 390.1,309.5 391.8,307.9 393.4,306.3 395.1,304.6 396.9,303.0 398.7,301.4 400.4,299.9 402.2,298.3 404.0,296.7 405.8,295.0 407.5,293.4 409.3,291.8 411.1,290.2 413.0,288.6 414.8,286.9 416.6,285.3 418.4,283.6 420.1,281.9 421.8,280.1 423.5,278.4 425.2,276.7 426.9,275.0 428.5,273.3 430.2,271.7 431.9,270.1 433.6,268.5 435.3,266.9 437.1,265.4 438.9,263.8 440.7,262.3 442.5,260.8 444.3,259.3 446.2,257.7 448.0,256.2 449.8,254.7 451.7,253.2 453.6,251.7 455.4,250.3 457.3,248.8 459.2,247.3 461.1,245.8 462.9,244.3 464.8,242.8 466.6,241.3 468.4,239.9 470.2,238.4 472.0,237.0 473.9,235.9 475.8,234.7 477.7,233.6 479.6,232.6 481.7,231.6 483.7,230.6 485.8,229.7 488.0,228.9 490.2,228.0 492.4,227.1 494.7,226.2 497.0,225.2 499.2,224.2 501.5,223.2 503.7,222.1 505.9,221.0 508.1,219.9 510.3,218.8 512.4,217.7 514.6,216.6 516.8,215.4 518.9,214.3 521.1,213.1 523.3,211.9 525.4,210.7 527.5,209.4 529.6,208.1 531.7,206.7 533.7,205.4 535.8,204.1 537.8,202.8 539.8,201.5 541.7,200.2 543.7,198.9 545.7,197.6 547.7,196.4 549.8,195.2 551.9,194.0 554.0,192.9 556.1,191.5 558.3,190.1 560.5,188.7 562.6,187.4 564.6,185.7 566.4,184.0 568.3,182.3 570.2,180.6 572.1,178.9 573.9,177.3 575.7,175.6 577.4,173.8 579.2,172.0 580.9,170.1 582.5,168.2 584.1,166.4 585.7,164.5 587.3,162.6 588.9,160.6 590.6,158.6 592.3,156.7 593.9,154.7 595.0,152.4 596.1,150.0 597.3,147.7 598.4,145.4 599.5,143.3 600.5,141.2 601.6,139.0 602.7,136.8 603.8,134.6 604.9,132.4 606.0,130.2 607.0,127.9 608.1,125.5 609.0,123.1 609.8,120.6 610.7,118.1 611.2,115.5 611.7,112.9 612.1,110.4 612.4,107.8 612.7,105.4 612.9,102.8 613.1,100.1 613.3,97.5 613.6,94.8 613.3,92.1 612.9,89.2 612.1,86.2 611.1,83.1 610.0,80.1 608.3,77.9 606.3,76.0 603.9,74.4 601.1,73.0 596.1,79.7 597.6,81.0 598.6,82.7 599.4,84.7 599.6,87.0 598.6,89.1 597.5,90.8 597.1,92.2 596.6,93.8 596.1,95.7 595.0,97.5 594.1,99.3 593.9,101.2 593.6,103.1 593.3,105.4 593.0,107.4 592.6,109.3 592.1,111.2 591.9,113.0 591.4,114.9 591.0,116.8 590.5,118.6 589.8,120.5 589.1,122.6 588.1,124.5 587.1,126.6 586.1,128.7 585.1,130.7 584.0,132.9 583.0,135.1 581.9,137.3 581.0,139.2 580.1,141.0 579.3,142.8 578.6,144.8 577.4,146.4 576.1,148.0 574.8,149.6 573.7,151.2 572.3,153.0 570.9,154.9 569.5,156.7 568.1,158.5 566.7,160.2 565.3,161.8 563.8,163.5 562.2,165.1 560.6,166.7 558.9,168.3 557.4,169.8 555.9,171.3 554.4,172.9 552.8,174.4 551.1,175.6 549.3,176.8 547.6,178.0 545.8,179.2 543.7,180.5 541.7,181.7 539.6,183.0 537.6,184.3 535.5,185.7 533.5,187.2 531.5,188.6 529.5,190.1 527.6,191.4 525.6,192.8 523.7,194.2 521.8,195.5 520.0,196.9 518.0,198.2 516.1,199.4 514.1,200.6 512.1,201.7 510.1,202.9 508.1,204.2 506.1,205.4 504.1,206.7 502.1,208.0 500.1,209.3 498.2,210.6 496.2,211.9 494.2,213.0 492.1,214.2 490.1,215.3 488.0,216.4 485.8,217.4 483.5,218.4 481.3,219.3 479.0,220.3 476.8,221.5 474.5,222.7 472.3,223.9 470.1,225.3 467.9,226.6 465.8,228.0 463.8,229.6 461.9,231.2 460.0,232.8 458.1,234.4 456.3,235.9 454.3,237.4 452.4,238.8 450.4,240.2 448.5,241.5 446.5,242.9 444.5,244.4 442.6,245.8 440.6,247.2 438.7,248.7 436.7,250.2 434.8,251.6 432.9,253.1 430.9,254.7 429.0,256.2 427.1,257.7 425.2,259.3 423.4,261.0 421.6,262.7 419.8,264.4 418.1,266.1 416.3,267.8 414.6,269.5 412.9,271.1 411.2,272.8 409.6,274.5 407.8,276.1 406.1,277.6 404.3,279.2 402.5,280.7 400.8,282.4 399.0,284.0 397.3,285.6 395.5,287.2 393.7,288.9 391.9,290.5 390.2,292.2 388.4,293.8 386.6,295.5 384.9,297.2 383.1,298.9 381.3,300.7 379.6,302.4 377.9,304.2 376.2,306.0 374.6,307.8 373.0,309.7 371.3,311.5 369.7,313.3 368.1,315.1 366.6,316.8 365.0,318.6 363.4,320.3 361.9,322.1 360.2,323.8 358.5,325.5 356.8,327.1 355.1,328.8 353.3,330.6 351.7,332.4 350.0,334.2 348.4,336.0 346.7,337.8 345.1,339.6 343.5,341.5 341.9,343.3 340.3,345.1 338.7,347.0 337.2,348.9 335.7,350.7 334.2,352.6 332.7,354.4 331.1,356.2 329.5,358.0 328.0,359.7 326.4,361.5 324.8,363.3 323.2,365.1 321.5,366.9 319.9,368.7 318.3,370.5 316.7,372.3 315.0,374.2 313.5,376.0 311.9,377.9 310.4,379.8 308.8,381.8 307.3,383.6 305.8,385.5 304.3,387.4 302.9,389.3 301.4,391.2 299.9,393.0 298.5,394.9 296.9,396.6 295.4,398.4 293.8,400.2 292.3,401.9 290.7,403.7 289.1,405.4 287.4,407.1 285.7,408.9 284.0,410.7 282.3,412.5 280.6,414.3 279.0,416.2 277.6,418.1 276.2,420.1 274.8,422.0 273.4,423.8 271.7,425.5 270.1,427.2 268.4,428.8 266.7,430.6 265.1,432.4 263.5,434.3 262.0,436.3 260.4,438.2 258.9,440.1 257.4,442.0 255.9,443.9 254.5,445.8 253.0,447.7 251.5,449.6 250.0,451.5 248.4,453.4 246.9,455.3 245.4,457.2 244.0,459.2 242.6,461.2 241.2,463.2 239.8,465.2 238.4,467.2 237.1,469.1 235.8,471.1 234.5,473.0 233.1,475.0 231.7,476.9 230.3,478.7 228.9,480.6 227.4,482.6 226.0,484.5 224.5,486.4 223.1,488.3 221.6,490.2 220.1,492.1 218.7,494.0 217.2,495.9 215.7,497.8 214.2,499.7 212.8,501.7 211.3,503.6 209.8,505.5 208.3,507.5 206.8,509.5 205.4,511.4 204.0,513.4 202.5,515.4 201.1,517.4 199.7,519.3 198.2,521.3 196.9,523.3 195.6,525.2 194.2,527.2 192.9,529.2 191.5,531.1 190.0,533.0 188.6,534.9 187.1,536.9 185.8,538.9 184.5,541.1 183.2,543.2 181.8,545.3 180.6,547.5 179.3,549.6 178.0,551.9 176.8,554.3 175.8,556.8 174.9,558.9 174.3,561.0 174.2,563.2 174.0,565.3 172.6,566.8 171.1,568.2 169.6,569.5 168.1,570.9 166.3,572.7 164.5,574.5 163.0,576.4 161.6,578.4 160.1,580.4 158.7,582.4 157.1,584.3 155.6,586.2 154.0,588.0 152.5,589.9 151.0,592.0 149.6,594.1 148.2,596.3 146.8,598.4 145.6,600.7 144.4,602.9 143.2,605.1 142.1,607.4 141.1,609.6 140.1,611.8 139.0,614.2 138.0,616.4 137.0,618.7 136.0,621.0 135.2,623.4 134.5,625.7 133.7,628.1 132.9,630.4 132.2,632.7 131.5,635.0 130.7,637.3 130.0,639.6 129.3,641.9 128.5,644.2" fill="#0d1e90"/>
<polygon points="139.9,647.8 140.6,645.5 141.4,643.3 142.1,641.0 142.8,638.7 143.6,636.4 144.3,634.1 145.0,631.9 145.7,629.7 146.4,627.5 147.2,625.3 148.1,623.2 149.1,621.0 150.0,618.9 150.9,616.9 151.9,614.7 152.8,612.6 153.8,610.5 154.9,608.5 156.0,606.5 157.1,604.5 158.3,602.6 159.5,600.8 160.8,598.9 162.0,597.0 163.5,595.2 165.0,593.3 166.6,591.5 168.1,589.7 169.4,587.8 170.8,585.9 172.1,584.0 173.5,582.1 175.1,580.5 176.8,578.9 178.7,576.9 180.7,574.9 182.6,572.8 184.3,570.8 184.7,568.1 185.0,565.5 185.6,563.0 186.6,560.7 187.4,558.8 188.4,556.9 189.4,555.0 190.6,553.1 191.7,551.1 192.9,549.1 194.1,547.2 195.3,545.2 196.6,543.2 198.0,541.3 199.4,539.4 200.8,537.4 202.2,535.4 203.5,533.4 204.8,531.3 206.1,529.2 207.3,527.2 208.7,525.2 210.0,523.3 211.3,521.3 212.6,519.4 213.9,517.4 215.3,515.5 216.6,513.5 218.0,511.7 219.5,509.9 220.9,508.0 222.4,506.2 223.9,504.3 225.4,502.4 226.9,500.6 228.4,498.7 229.9,496.8 231.4,495.0 232.9,493.1 234.4,491.2 235.9,489.3 237.4,487.5 238.9,485.5 240.5,483.6 242.0,481.7 243.5,479.7 244.9,477.7 246.3,475.7 247.7,473.7 249.1,471.7 250.5,469.8 251.8,467.9 253.2,465.9 254.5,464.0 256.0,462.2 257.4,460.3 258.9,458.5 260.4,456.7 261.9,454.8 263.4,452.9 264.9,451.0 266.4,449.1 267.8,447.2 269.3,445.4 270.8,443.6 272.2,441.8 273.7,440.0 275.2,438.2 276.9,436.5 278.6,434.8 280.3,433.0 282.1,431.2 283.6,429.3 285.0,427.4 286.5,425.4 287.9,423.5 289.3,421.6 290.9,420.0 292.5,418.3 294.1,416.6 295.8,414.9 297.5,413.2 299.1,411.4 300.7,409.5 302.3,407.7 304.0,405.8 305.6,404.0 307.2,402.1 308.7,400.2 310.2,398.3 311.7,396.3 313.2,394.4 314.7,392.5 316.2,390.7 317.7,388.8 319.1,387.0 320.6,385.1 322.1,383.3 323.6,381.5 325.2,379.8 326.8,378.0 328.3,376.3 329.9,374.5 331.6,372.8 333.2,371.0 334.8,369.2 336.5,367.4 338.1,365.6 339.8,363.8 341.4,362.0 343.0,360.2 344.5,358.3 346.0,356.4 347.6,354.6 349.1,352.8 350.7,351.0 352.2,349.3 353.8,347.5 355.4,345.8 357.0,344.0 358.6,342.3 360.2,340.6 361.8,338.9 363.5,337.2 365.2,335.6 367.0,333.9 368.7,332.2 370.5,330.5 372.1,328.7 373.8,326.9 375.4,325.1 377.1,323.3 378.7,321.5 380.3,319.8 381.9,318.0 383.5,316.3 385.1,314.5 386.7,312.8 388.4,311.1 390.1,309.5 391.8,307.9 393.4,306.3 395.1,304.6 396.9,303.0 398.7,301.4 400.4,299.9 402.2,298.3 404.0,296.7 405.8,295.0 407.5,293.4 409.3,291.8 411.1,290.2 413.0,288.6 414.8,286.9 416.6,285.3 418.4,283.6 420.1,281.9 421.8,280.1 423.5,278.4 425.2,276.7 426.9,275.0 428.5,273.3 430.2,271.7 431.9,270.1 433.6,268.5 435.3,266.9 437.1,265.4 438.9,263.8 440.7,262.3 442.5,260.8 444.3,259.3 446.2,257.7 448.0,256.2 449.8,254.7 451.7,253.2 453.6,251.7 455.4,250.3 457.3,248.8 459.2,247.3 461.1,245.8 462.9,244.3 464.8,242.8 466.6,241.3 468.4,239.9 470.2,238.4 472.0,237.0 473.9,235.9 475.8,234.7 477.7,233.6 479.6,232.6 481.7,231.6 483.7,230.6 485.8,229.7 488.0,228.9 490.2,228.0 492.4,227.1 494.7,226.2 497.0,225.2 499.2,224.2 501.5,223.2 503.7,222.1 505.9,221.0 508.1,219.9 510.3,218.8 512.4,217.7 514.6,216.6 516.8,215.4 518.9,214.3 521.1,213.1 523.3,211.9 525.4,210.7 527.5,209.4 529.6,208.1 531.7,206.7 533.7,205.4 535.8,204.1 537.8,202.8 539.8,201.5 541.7,200.2 543.7,198.9 545.7,197.6 547.7,196.4 549.8,195.2 551.9,194.0 554.0,192.9 556.1,191.5 558.3,190.1 560.5,188.7 562.6,187.4 564.6,185.7 566.4,184.0 568.3,182.3 570.2,180.6 572.1,178.9 573.9,177.3 575.7,175.6 577.4,173.8 579.2,172.0 580.9,170.1 582.5,168.2 584.1,166.4 585.7,164.5 587.3,162.6 588.9,160.6 590.6,158.6 592.3,156.7 593.9,154.7 595.0,152.4 596.1,150.0 597.3,147.7 598.4,145.4 599.5,143.3 600.5,141.2 601.6,139.0 602.7,136.8 603.8,134.6 604.9,132.4 606.0,130.2 607.0,127.9 608.1,125.5 609.0,123.1 609.8,120.6 610.7,118.1 611.2,115.5 611.7,112.9 612.1,110.4 612.4,107.8 612.7,105.4 612.9,102.8 613.1,100.1 613.3,97.5 613.6,94.8 613.3,92.1 612.9,89.2 612.1,86.2 611.1,83.1 610.0,80.1 608.3,77.9 606.3,76.0 603.9,74.4 601.1,73.0 596.7,78.9 598.5,80.0 599.9,81.6 601.1,83.4 601.8,85.5 601.5,87.7 601.2,89.7 601.2,91.5 601.0,93.4 600.8,95.5 600.1,97.5 599.5,99.5 599.2,101.7 599.0,103.8 598.7,106.1 598.4,108.2 598.0,110.3 597.6,112.4 597.2,114.5 596.7,116.5 596.1,118.5 595.4,120.6 594.6,122.6 593.8,124.7 592.8,126.7 591.8,128.8 590.7,130.9 589.7,133.0 588.6,135.2 587.5,137.4 586.5,139.6 585.5,141.6 584.5,143.5 583.6,145.5 582.8,147.5 581.5,149.3 580.1,150.9 578.7,152.6 577.4,154.3 576.0,156.1 574.5,158.0 573.0,159.8 571.6,161.6 570.0,163.3 568.5,165.0 567.0,166.7 565.3,168.3 563.6,170.0 561.9,171.5 560.3,173.0 558.6,174.6 557.1,176.2 555.4,177.8 553.5,179.0 551.6,180.3 549.8,181.5 547.9,182.7 545.8,183.9 543.7,185.2 541.7,186.4 539.6,187.7 537.6,189.1 535.6,190.4 533.6,191.8 531.6,193.2 529.6,194.6 527.6,195.9 525.7,197.3 523.7,198.6 521.8,199.9 519.8,201.2 517.8,202.4 515.8,203.6 513.7,204.7 511.7,205.9 509.6,207.1 507.6,208.3 505.5,209.5 503.5,210.7 501.4,211.9 499.4,213.1 497.3,214.3 495.2,215.4 493.1,216.5 491.0,217.5 488.9,218.5 486.6,219.5 484.4,220.4 482.2,221.3 479.9,222.3 477.7,223.4 475.5,224.6 473.3,225.7 471.1,227.0 469.0,228.3 466.9,229.7 465.0,231.2 463.1,232.8 461.2,234.3 459.3,235.9 457.5,237.4 455.6,238.9 453.7,240.3 451.7,241.8 449.8,243.2 447.9,244.6 445.9,246.1 444.0,247.6 442.1,249.0 440.2,250.5 438.3,252.0 436.4,253.5 434.5,255.0 432.6,256.6 430.7,258.1 428.8,259.6 427.0,261.3 425.2,263.0 423.5,264.6 421.7,266.3 420.0,268.0 418.2,269.7 416.5,271.4 414.8,273.1 413.1,274.8 411.5,276.4 409.7,278.1 408.0,279.6 406.2,281.2 404.4,282.8 402.7,284.4 400.9,286.0 399.1,287.7 397.3,289.3 395.6,290.9 393.8,292.5 392.0,294.2 390.2,295.8 388.4,297.4 386.7,299.1 384.9,300.9 383.2,302.6 381.4,304.3 379.7,306.0 378.1,307.8 376.5,309.6 374.9,311.4 373.2,313.2 371.6,315.0 370.0,316.8 368.4,318.5 366.8,320.3 365.2,322.1 363.6,323.8 361.9,325.5 360.2,327.2 358.5,328.9 356.8,330.5 355.1,332.3 353.4,334.0 351.8,335.8 350.1,337.6 348.5,339.4 346.9,341.2 345.2,343.0 343.6,344.8 342.0,346.7 340.5,348.5 339.0,350.4 337.4,352.2 335.9,354.1 334.4,355.9 332.8,357.7 331.2,359.5 329.6,361.2 328.0,363.0 326.4,364.8 324.8,366.6 323.2,368.4 321.6,370.2 319.9,372.0 318.3,373.8 316.7,375.6 315.1,377.4 313.6,379.3 312.1,381.2 310.6,383.1 309.0,385.0 307.5,386.9 306.1,388.8 304.6,390.7 303.1,392.5 301.6,394.4 300.2,396.3 298.6,398.1 297.0,399.8 295.5,401.6 293.9,403.4 292.3,405.2 290.7,406.9 289.1,408.7 287.4,410.4 285.7,412.2 284.0,413.9 282.3,415.7 280.8,417.6 279.4,419.5 278.0,421.5 276.6,423.4 275.1,425.2 273.4,426.9 271.7,428.6 270.1,430.3 268.4,432.1 266.8,433.9 265.2,435.8 263.7,437.7 262.2,439.6 260.7,441.5 259.2,443.4 257.7,445.3 256.2,447.2 254.7,449.1 253.2,450.9 251.7,452.8 250.2,454.7 248.7,456.6 247.2,458.5 245.8,460.5 244.4,462.5 243.0,464.5 241.6,466.5 240.2,468.4 238.9,470.4 237.5,472.4 236.2,474.3 234.8,476.2 233.3,478.1 231.9,480.0 230.5,481.9 229.0,483.8 227.5,485.7 226.0,487.6 224.6,489.5 223.1,491.4 221.6,493.3 220.1,495.2 218.6,497.1 217.1,499.0 215.7,500.8 214.2,502.8 212.7,504.7 211.2,506.6 209.7,508.5 208.3,510.5 206.9,512.5 205.5,514.5 204.1,516.5 202.7,518.4 201.3,520.4 199.9,522.4 198.6,524.4 197.3,526.4 196.0,528.4 194.7,530.4 193.3,532.3 191.8,534.2 190.4,536.2 189.0,538.1 187.7,540.2 186.4,542.2 185.1,544.3 183.8,546.4 182.5,548.6 181.3,550.7 180.1,552.9 178.9,555.2 177.9,557.6 177.0,559.7 176.5,561.9 176.3,564.2 176.1,566.4 174.6,568.0 173.0,569.5 171.4,571.0 169.9,572.5 168.1,574.3 166.4,576.0 164.9,578.0 163.4,579.9 162.0,581.9 160.6,583.9 159.0,585.8 157.5,587.6 155.9,589.5 154.4,591.4 153.0,593.4 151.6,595.5 150.3,597.6 148.9,599.7 147.7,601.9 146.5,604.0 145.4,606.2 144.3,608.4 143.3,610.6 142.3,612.9 141.3,615.1 140.3,617.4 139.3,619.6 138.3,621.9 137.5,624.2 136.8,626.5 136.0,628.9 135.3,631.2 134.5,633.5 133.8,635.8 133.1,638.1 132.3,640.4 131.6,642.6 130.9,644.9" fill="#0a1687"/>
</g></g>
<g shape-rendering="crispEdges">
<rect x="93" y="38" width="1" height="604" fill="#7d7d7d"/>
<rect x="675" y="38" width="1" height="604" fill="#7d7d7d"/>
<rect x="79" y="49" width="610" height="1" fill="#7d7d7d"/>
<rect x="79" y="631" width="610" height="1" fill="#7d7d7d"/>
<rect x="93" y="38" width="1" height="8" fill="#000"/>
<rect x="675" y="38" width="1" height="8" fill="#000"/>
<rect x="79" y="49" width="8" height="1" fill="#000"/>
<rect x="79" y="631" width="8" height="1" fill="#000"/>
<rect x="106" y="635" width="1" height="7" fill="#000"/>
<rect x="357" y="635" width="1" height="7" fill="#000"/>
<rect x="608" y="635" width="1" height="7" fill="#000"/>
<rect x="682" y="39" width="7" height="1" fill="#000"/>
<rect x="682" y="362" width="7" height="1" fill="#000"/>
<rect x="78" y="37" width="612" height="606" fill="none" stroke="#000" stroke-width="2"/>
<rect x="93" y="642" width="1" height="2" fill="#7d7d7d"/>
<rect x="675" y="642" width="1" height="2" fill="#7d7d7d"/>
<rect x="689" y="631" width="2" height="1" fill="#555"/>
<rect x="80" y="723" width="376" height="1" fill="#000"/>
<rect x="80" y="712" width="1" height="23" fill="#000"/>
<rect x="197" y="712" width="1" height="11" fill="#000"/>
<rect x="313" y="712" width="1" height="11" fill="#000"/>
<rect x="268" y="723" width="1" height="12" fill="#000"/>
<rect x="455" y="723" width="1" height="12" fill="#000"/>
<rect x="614" y="706" width="25" height="40" fill="url(#cb)"/>
<rect x="639" y="706" width="2" height="1" fill="#000"/>
<rect x="639" y="725" width="2" height="1" fill="#000"/>
<rect x="639" y="745" width="2" height="1" fill="#000"/>
</g>
<g text-rendering="geometricPrecision" font-family="'Liberation Sans', Arial, sans-serif" font-size="16" fill="#000">
<text font-size="15.4" transform="translate(84.85,664.20) scale(0.830,1)" x="-0.68 3.79 12.72 21.46 28.57 38.92 48.98">-74<tspan font-size="20.0" dy="3.1">°</tspan><tspan dy="-3.1">39</tspan><tspan dy="-1">'</tspan></text>
<text font-size="15.4" transform="translate(335.85,664.20) scale(0.830,1)" x="-0.68 3.79 12.72 21.46 28.57 38.86 48.98">-74<tspan font-size="20.0" dy="3.1">°</tspan><tspan dy="-3.1">36</tspan><tspan dy="-1">'</tspan></text>
<text font-size="15.4" transform="translate(586.85,664.20) scale(0.830,1)" x="-0.68 3.79 12.72 21.46 28.57 39.05 48.98">-74<tspan font-size="20.0" dy="3.1">°</tspan><tspan dy="-3.1">33</tspan><tspan dy="-1">'</tspan></text>
<text font-size="15.4" transform="translate(711.10,58.10) rotate(-90) scale(0.830,1)" x="-0.59 8.68 17.12 24.37 33.19 42.59">39<tspan font-size="20.0" dy="3.1">°</tspan><tspan dy="-3.1">18</tspan><tspan dy="-1">'</tspan></text>
<text font-size="15.4" transform="translate(711.10,381.10) rotate(-90) scale(0.830,1)" x="-0.59 8.68 17.12 24.37 33.24 42.59">39<tspan font-size="20.0" dy="3.1">°</tspan><tspan dy="-3.1">15</tspan><tspan dy="-1">'</tspan></text>
<text font-size="15.4" transform="translate(71.9,25.0) scale(0.800,1)">530000</text>
<text font-size="15.4" transform="translate(654.0,25.0) scale(0.800,1)">540000</text>
<text font-size="15.4" transform="translate(65.7,73.0) rotate(-90) scale(0.800,1)">4350000</text>
<text font-size="15.4" transform="translate(65.7,655.0) rotate(-90) scale(0.800,1)">4340000</text>
<text font-size="15.4" transform="translate(76.0,703.1) scale(0.800,1)">0</text>
<text font-size="15.4" transform="translate(192.9,703.1) scale(0.800,1)">2</text>
<text font-size="16.4" transform="translate(308.7,703.1) scale(0.814,1)"><tspan font-size="15.4">4</tspan> KILOMETERS</text>
<text font-size="15.4" transform="translate(76.0,755.1) scale(0.800,1)">0</text>
<text font-size="15.4" transform="translate(263.8,755.1) scale(0.800,1)">2</text>
<text font-size="16.4" transform="translate(451.0,755.1) scale(0.845,1)"><tspan font-size="15.4">4</tspan> MILES</text>
<text font-size="16.4" transform="translate(613.9,685.0) scale(0.842,1)">NAVD<tspan font-size="15.4">88</tspan> (m)</text>
<text font-size="15.4" transform="translate(644.8,712.1) scale(0.800,1)">75</text>
<text font-size="15.4" transform="translate(645.0,752.1) scale(0.800,1)">-1</text>
</g>
</svg>
</body></html>
